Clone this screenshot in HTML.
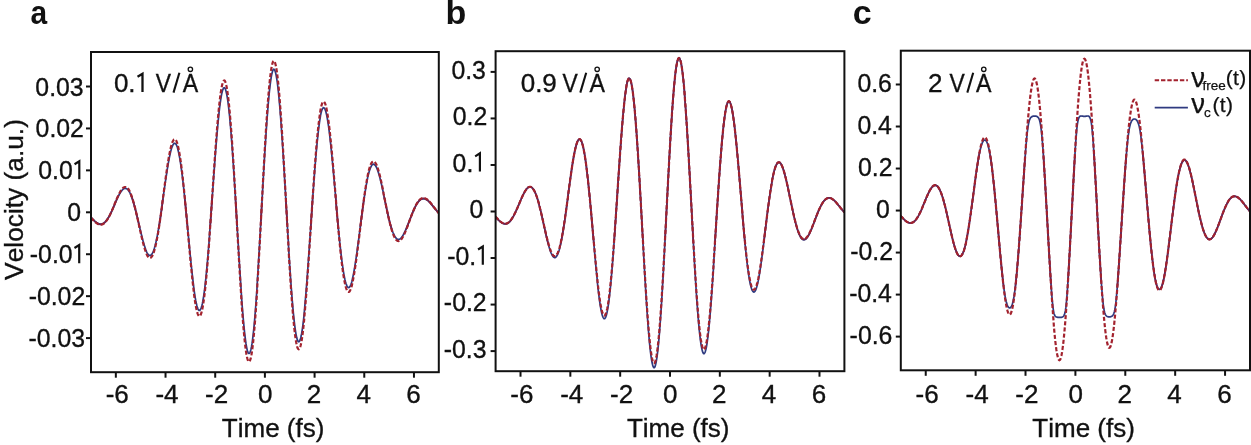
<!DOCTYPE html>
<html><head><meta charset="utf-8"><style>
html,body{margin:0;padding:0;background:#fff;}
body{width:1251px;height:445px;overflow:hidden;}
svg{display:block;will-change:transform;}
text{font-family:"Liberation Sans", sans-serif;fill:#111;font-kerning:none;}
.t{font-size:26px;stroke:#111;stroke-width:0.35px;}
.lg{font-size:21px;stroke:#111;stroke-width:0.25px;}
.L{font-weight:bold;font-size:34px;}
</style></head><body>
<svg width="1251" height="445" viewBox="0 0 1251 445">
<defs><filter id="soft" x="-5%" y="-5%" width="110%" height="110%"><feGaussianBlur stdDeviation="0.4"/></filter></defs>
<rect width="1251" height="445" fill="#fff"/>
<text transform="translate(30.6,24) scale(0.88,1)" class="L">a</text>
<text x="445.4" y="24" class="L">b</text>
<text x="852.7" y="24" class="L">c</text>
<text transform="translate(23.2,199.5) rotate(-90)" text-anchor="middle" class="t" style="font-size:26.3px">Velocity (a.u.)</text>
<clipPath id="clipa"><rect x="91.0" y="52.0" width="347.80" height="320.20"/></clipPath>
<g clip-path="url(#clipa)"><g filter="url(#soft)">
<path d="M91.0 217.3 L91.5 217.9 L92.0 218.4 L92.5 218.9 L93.0 219.4 L93.5 219.9 L94.0 220.4 L94.5 220.9 L95.0 221.3 L95.5 221.7 L96.0 222.1 L96.5 222.5 L97.0 222.8 L97.5 223.1 L98.0 223.4 L98.5 223.6 L98.9 223.8 L99.4 223.9 L99.9 224.0 L100.4 224.0 L100.9 224.0 L101.4 224.0 L101.9 223.9 L102.4 223.7 L102.9 223.5 L103.4 223.2 L103.9 222.9 L104.4 222.5 L104.9 222.1 L105.4 221.6 L105.9 221.0 L106.4 220.4 L106.9 219.8 L107.4 219.1 L107.9 218.3 L108.4 217.5 L108.9 216.7 L109.4 215.8 L109.9 214.8 L110.4 213.9 L110.9 212.9 L111.4 211.8 L111.9 210.8 L112.4 209.7 L112.9 208.6 L113.4 207.4 L113.9 206.3 L114.4 205.2 L114.8 204.0 L115.3 202.9 L115.8 201.7 L116.3 200.6 L116.8 199.5 L117.3 198.4 L117.8 197.4 L118.3 196.3 L118.8 195.4 L119.3 194.4 L119.8 193.5 L120.3 192.7 L120.8 191.9 L121.3 191.2 L121.8 190.6 L122.3 190.0 L122.8 189.5 L123.3 189.1 L123.8 188.8 L124.3 188.5 L124.8 188.4 L125.3 188.4 L125.8 188.4 L126.3 188.6 L126.8 188.8 L127.3 189.2 L127.8 189.7 L128.3 190.2 L128.8 190.9 L129.3 191.7 L129.8 192.6 L130.3 193.6 L130.7 194.7 L131.2 195.9 L131.7 197.2 L132.2 198.6 L132.7 200.1 L133.2 201.7 L133.7 203.3 L134.2 205.1 L134.7 206.9 L135.2 208.8 L135.7 210.7 L136.2 212.7 L136.7 214.7 L137.2 216.8 L137.7 218.9 L138.2 221.0 L138.7 223.2 L139.2 225.3 L139.7 227.5 L140.2 229.6 L140.7 231.7 L141.2 233.8 L141.7 235.8 L142.2 237.8 L142.7 239.7 L143.2 241.6 L143.7 243.3 L144.2 245.0 L144.7 246.6 L145.2 248.1 L145.7 249.5 L146.2 250.7 L146.6 251.8 L147.1 252.8 L147.6 253.7 L148.1 254.3 L148.6 254.9 L149.1 255.2 L149.6 255.4 L150.1 255.4 L150.6 255.3 L151.1 255.0 L151.6 254.4 L152.1 253.7 L152.6 252.9 L153.1 251.8 L153.6 250.5 L154.1 249.1 L154.6 247.5 L155.1 245.7 L155.6 243.7 L156.1 241.6 L156.6 239.3 L157.1 236.9 L157.6 234.3 L158.1 231.5 L158.6 228.7 L159.1 225.7 L159.6 222.6 L160.1 219.4 L160.6 216.1 L161.1 212.7 L161.6 209.3 L162.1 205.8 L162.5 202.2 L163.0 198.7 L163.5 195.1 L164.0 191.5 L164.5 188.0 L165.0 184.5 L165.5 181.0 L166.0 177.6 L166.5 174.3 L167.0 171.1 L167.5 167.9 L168.0 164.9 L168.5 162.1 L169.0 159.4 L169.5 156.9 L170.0 154.5 L170.5 152.3 L171.0 150.4 L171.5 148.6 L172.0 147.1 L172.5 145.9 L173.0 144.8 L173.5 144.1 L174.0 143.5 L174.5 143.3 L175.0 143.3 L175.5 143.7 L176.0 144.3 L176.5 145.1 L177.0 146.3 L177.5 147.7 L177.9 149.5 L178.4 151.5 L178.9 153.8 L179.4 156.3 L179.9 159.2 L180.4 162.2 L180.9 165.6 L181.4 169.1 L181.9 172.9 L182.4 176.9 L182.9 181.2 L183.4 185.6 L183.9 190.1 L184.4 194.9 L184.9 199.7 L185.4 204.7 L185.9 209.8 L186.4 215.0 L186.9 220.2 L187.4 225.5 L187.9 230.8 L188.4 236.1 L188.9 241.4 L189.4 246.6 L189.9 251.8 L190.4 256.8 L190.9 261.8 L191.4 266.6 L191.9 271.3 L192.4 275.8 L192.9 280.1 L193.4 284.2 L193.8 288.1 L194.3 291.7 L194.8 295.1 L195.3 298.1 L195.8 300.9 L196.3 303.3 L196.8 305.4 L197.3 307.1 L197.8 308.5 L198.3 309.6 L198.8 310.2 L199.3 310.5 L199.8 310.4 L200.3 309.8 L200.8 308.9 L201.3 307.6 L201.8 306.0 L202.3 303.9 L202.8 301.4 L203.3 298.5 L203.8 295.3 L204.3 291.7 L204.8 287.8 L205.3 283.5 L205.8 278.9 L206.3 273.9 L206.8 268.7 L207.3 263.2 L207.8 257.4 L208.3 251.4 L208.8 245.2 L209.3 238.8 L209.7 232.2 L210.2 225.5 L210.7 218.6 L211.2 211.7 L211.7 204.7 L212.2 197.7 L212.7 190.6 L213.2 183.6 L213.7 176.7 L214.2 169.8 L214.7 163.0 L215.2 156.3 L215.7 149.8 L216.2 143.5 L216.7 137.4 L217.2 131.6 L217.7 126.0 L218.2 120.8 L218.7 115.8 L219.2 111.2 L219.7 106.9 L220.2 103.1 L220.7 99.6 L221.2 96.5 L221.7 93.9 L222.2 91.7 L222.7 90.0 L223.2 88.8 L223.7 88.0 L224.2 87.7 L224.7 87.9 L225.2 88.6 L225.6 89.8 L226.1 91.5 L226.6 93.7 L227.1 96.3 L227.6 99.4 L228.1 103.0 L228.6 107.1 L229.1 111.5 L229.6 116.4 L230.1 121.8 L230.6 127.5 L231.1 133.5 L231.6 140.0 L232.1 146.7 L232.6 153.7 L233.1 161.0 L233.6 168.6 L234.1 176.3 L234.6 184.3 L235.1 192.4 L235.6 200.6 L236.1 208.9 L236.6 217.3 L237.1 225.7 L237.6 234.0 L238.1 242.4 L238.6 250.6 L239.1 258.7 L239.6 266.7 L240.1 274.5 L240.6 282.1 L241.1 289.5 L241.5 296.6 L242.0 303.4 L242.5 309.8 L243.0 315.9 L243.5 321.6 L244.0 326.9 L244.5 331.8 L245.0 336.2 L245.5 340.2 L246.0 343.7 L246.5 346.6 L247.0 349.1 L247.5 351.0 L248.0 352.4 L248.5 353.2 L249.0 353.5 L249.5 353.3 L250.0 352.4 L250.5 351.1 L251.0 349.2 L251.5 346.7 L252.0 343.7 L252.5 340.2 L253.0 336.2 L253.5 331.7 L254.0 326.8 L254.5 321.3 L255.0 315.5 L255.5 309.2 L256.0 302.5 L256.5 295.5 L257.0 288.1 L257.4 280.4 L257.9 272.5 L258.4 264.3 L258.9 255.9 L259.4 247.3 L259.9 238.6 L260.4 229.8 L260.9 220.9 L261.4 211.9 L261.9 203.0 L262.4 194.0 L262.9 185.2 L263.4 176.4 L263.9 167.8 L264.4 159.4 L264.9 151.2 L265.4 143.2 L265.9 135.5 L266.4 128.1 L266.9 121.0 L267.4 114.3 L267.9 107.9 L268.4 102.0 L268.9 96.5 L269.4 91.5 L269.9 86.9 L270.4 82.8 L270.9 79.3 L271.4 76.2 L271.9 73.7 L272.4 71.8 L272.8 70.4 L273.3 69.5 L273.8 69.2 L274.3 69.5 L274.8 70.3 L275.3 71.7 L275.8 73.6 L276.3 76.0 L276.8 79.0 L277.3 82.5 L277.8 86.5 L278.3 90.9 L278.8 95.9 L279.3 101.2 L279.8 107.0 L280.3 113.2 L280.8 119.7 L281.3 126.6 L281.8 133.8 L282.3 141.3 L282.8 149.0 L283.3 157.0 L283.8 165.1 L284.3 173.4 L284.8 181.8 L285.3 190.3 L285.8 198.9 L286.3 207.5 L286.8 216.0 L287.3 224.5 L287.8 233.0 L288.3 241.3 L288.7 249.4 L289.2 257.4 L289.7 265.2 L290.2 272.7 L290.7 280.0 L291.2 287.0 L291.7 293.6 L292.2 299.9 L292.7 305.8 L293.2 311.3 L293.7 316.5 L294.2 321.1 L294.7 325.4 L295.2 329.1 L295.7 332.4 L296.2 335.3 L296.7 337.6 L297.2 339.4 L297.7 340.7 L298.2 341.5 L298.7 341.8 L299.2 341.6 L299.7 340.9 L300.2 339.7 L300.7 338.0 L301.2 335.8 L301.7 333.2 L302.2 330.1 L302.7 326.6 L303.2 322.7 L303.7 318.3 L304.2 313.6 L304.6 308.5 L305.1 303.1 L305.6 297.4 L306.1 291.3 L306.6 285.1 L307.1 278.5 L307.6 271.8 L308.1 264.9 L308.6 257.9 L309.1 250.7 L309.6 243.4 L310.1 236.1 L310.6 228.7 L311.1 221.4 L311.6 214.0 L312.1 206.7 L312.6 199.5 L313.1 192.5 L313.6 185.5 L314.1 178.7 L314.6 172.1 L315.1 165.8 L315.6 159.6 L316.1 153.8 L316.6 148.2 L317.1 142.9 L317.6 137.9 L318.1 133.3 L318.6 129.0 L319.1 125.1 L319.6 121.5 L320.1 118.4 L320.5 115.6 L321.0 113.3 L321.5 111.3 L322.0 109.8 L322.5 108.7 L323.0 108.0 L323.5 107.7 L324.0 107.8 L324.5 108.3 L325.0 109.2 L325.5 110.6 L326.0 112.3 L326.5 114.3 L327.0 116.7 L327.5 119.5 L328.0 122.6 L328.5 126.0 L329.0 129.7 L329.5 133.7 L330.0 138.0 L330.5 142.4 L331.0 147.1 L331.5 152.0 L332.0 157.1 L332.5 162.3 L333.0 167.7 L333.5 173.2 L334.0 178.7 L334.5 184.3 L335.0 190.0 L335.5 195.6 L336.0 201.3 L336.4 206.9 L336.9 212.5 L337.4 218.0 L337.9 223.4 L338.4 228.7 L338.9 233.8 L339.4 238.8 L339.9 243.7 L340.4 248.3 L340.9 252.8 L341.4 257.0 L341.9 261.0 L342.4 264.7 L342.9 268.2 L343.4 271.4 L343.9 274.4 L344.4 277.0 L344.9 279.4 L345.4 281.5 L345.9 283.2 L346.4 284.7 L346.9 285.9 L347.4 286.7 L347.9 287.3 L348.4 287.6 L348.9 287.5 L349.4 287.2 L349.9 286.6 L350.4 285.7 L350.9 284.5 L351.4 283.1 L351.9 281.4 L352.3 279.4 L352.8 277.3 L353.3 274.9 L353.8 272.3 L354.3 269.5 L354.8 266.6 L355.3 263.5 L355.8 260.2 L356.3 256.8 L356.8 253.3 L357.3 249.6 L357.8 245.9 L358.3 242.2 L358.8 238.3 L359.3 234.5 L359.8 230.6 L360.3 226.7 L360.8 222.8 L361.3 219.0 L361.8 215.2 L362.3 211.4 L362.8 207.7 L363.3 204.1 L363.8 200.6 L364.3 197.2 L364.8 193.9 L365.3 190.8 L365.8 187.8 L366.3 184.9 L366.8 182.3 L367.3 179.7 L367.7 177.4 L368.2 175.2 L368.7 173.2 L369.2 171.4 L369.7 169.9 L370.2 168.5 L370.7 167.3 L371.2 166.3 L371.7 165.4 L372.2 164.8 L372.7 164.4 L373.2 164.2 L373.7 164.2 L374.2 164.4 L374.7 164.8 L375.2 165.3 L375.7 166.0 L376.2 166.9 L376.7 167.9 L377.2 169.1 L377.7 170.5 L378.2 171.9 L378.7 173.5 L379.2 175.3 L379.7 177.1 L380.2 179.0 L380.7 181.0 L381.2 183.1 L381.7 185.3 L382.2 187.5 L382.7 189.8 L383.2 192.1 L383.6 194.5 L384.1 196.9 L384.6 199.2 L385.1 201.6 L385.6 204.0 L386.1 206.3 L386.6 208.6 L387.1 210.9 L387.6 213.2 L388.1 215.3 L388.6 217.5 L389.1 219.5 L389.6 221.5 L390.1 223.4 L390.6 225.2 L391.1 226.9 L391.6 228.5 L392.1 230.0 L392.6 231.5 L393.1 232.8 L393.6 233.9 L394.1 235.0 L394.6 236.0 L395.1 236.8 L395.6 237.5 L396.1 238.2 L396.6 238.7 L397.1 239.0 L397.6 239.3 L398.1 239.4 L398.6 239.5 L399.1 239.4 L399.5 239.2 L400.0 238.9 L400.5 238.6 L401.0 238.1 L401.5 237.5 L402.0 236.9 L402.5 236.1 L403.0 235.3 L403.5 234.5 L404.0 233.5 L404.5 232.5 L405.0 231.5 L405.5 230.4 L406.0 229.2 L406.5 228.0 L407.0 226.8 L407.5 225.6 L408.0 224.3 L408.5 223.0 L409.0 221.7 L409.5 220.4 L410.0 219.1 L410.5 217.9 L411.0 216.6 L411.5 215.4 L412.0 214.1 L412.5 212.9 L413.0 211.7 L413.5 210.6 L414.0 209.5 L414.5 208.5 L415.0 207.4 L415.4 206.5 L415.9 205.6 L416.4 204.7 L416.9 203.9 L417.4 203.1 L417.9 202.4 L418.4 201.8 L418.9 201.2 L419.4 200.7 L419.9 200.3 L420.4 199.9 L420.9 199.5 L421.4 199.3 L421.9 199.1 L422.4 198.9 L422.9 198.8 L423.4 198.8 L423.9 198.8 L424.4 198.9 L424.9 199.0 L425.4 199.2 L425.9 199.4 L426.4 199.7 L426.9 200.0 L427.4 200.3 L427.9 200.7 L428.4 201.1 L428.9 201.6 L429.4 202.1 L429.9 202.6 L430.4 203.1 L430.9 203.7 L431.3 204.3 L431.8 204.8 L432.3 205.4 L432.8 206.0 L433.3 206.7 L433.8 207.3 L434.3 207.9 L434.8 208.5 L435.3 209.1 L435.8 209.7 L436.3 210.3 L436.8 210.9 L437.3 211.5 L437.8 212.0 L438.3 212.6 L438.8 213.1" fill="none" stroke="#2f3a80" stroke-width="1.7" stroke-linejoin="round"/>
<path d="M91.0 217.5 L91.5 218.0 L92.0 218.6 L92.5 219.1 L93.0 219.7 L93.5 220.2 L94.0 220.7 L94.5 221.1 L95.0 221.6 L95.5 222.0 L96.0 222.4 L96.5 222.8 L97.0 223.1 L97.5 223.4 L98.0 223.7 L98.5 223.9 L98.9 224.1 L99.4 224.2 L99.9 224.3 L100.4 224.4 L100.9 224.4 L101.4 224.3 L101.9 224.2 L102.4 224.0 L102.9 223.8 L103.4 223.5 L103.9 223.2 L104.4 222.8 L104.9 222.3 L105.4 221.8 L105.9 221.3 L106.4 220.7 L106.9 220.0 L107.4 219.3 L107.9 218.5 L108.4 217.7 L108.9 216.8 L109.4 215.9 L109.9 214.9 L110.4 213.9 L110.9 212.9 L111.4 211.8 L111.9 210.7 L112.4 209.6 L112.9 208.5 L113.4 207.3 L113.9 206.1 L114.4 205.0 L114.8 203.8 L115.3 202.6 L115.8 201.4 L116.3 200.3 L116.8 199.1 L117.3 198.0 L117.8 196.9 L118.3 195.9 L118.8 194.9 M131.2 195.4 L131.7 196.8 L132.2 198.2 L132.7 199.8 L133.2 201.4 L133.7 203.1 L134.2 204.9 L134.7 206.7 L135.2 208.7 L135.7 210.7 L136.2 212.7 L136.7 214.8 L137.2 216.9 L137.7 219.1 L138.2 221.3 L138.7 223.5 L139.2 225.7 L139.7 227.9 M158.6 229.1 L159.1 226.1 L159.6 222.9 L160.1 219.6 L160.6 216.2 L161.1 212.7 L161.6 209.2 L162.1 205.6 L162.5 201.9 L163.0 198.3 M184.9 199.4 L185.4 204.5 L185.9 209.7 L186.4 215.0 L186.9 220.4 L187.4 225.9 M210.2 225.9 L210.7 218.8 L211.2 211.7 L211.7 204.5 L212.2 197.3 M235.6 200.3 L236.1 208.8 L236.6 217.4 L237.1 226.0 M260.9 221.1 L261.4 211.9 L261.9 202.7 M285.8 198.5 L286.3 207.3 L286.8 216.1 L287.3 224.9 M310.6 229.2 L311.1 221.6 L311.6 214.1 L312.1 206.6 L312.6 199.2 M335.5 195.1 L336.0 201.0 L336.4 206.8 L336.9 212.5 L337.4 218.2 L337.9 223.7 L338.4 229.2 M360.3 227.1 L360.8 223.1 L361.3 219.2 L361.8 215.2 L362.3 211.4 L362.8 207.6 L363.3 203.9 L363.8 200.3 L364.3 196.8 M384.1 196.4 L384.6 198.9 L385.1 201.3 L385.6 203.7 L386.1 206.2 L386.6 208.5 L387.1 210.9 L387.6 213.2 L388.1 215.4 L388.6 217.6 L389.1 219.7 L389.6 221.8 L390.1 223.7 L390.6 225.6 L391.1 227.3 L391.6 229.0 M406.0 229.7 L406.5 228.5 L407.0 227.2 L407.5 225.9 L408.0 224.6 L408.5 223.3 L409.0 222.0 L409.5 220.7 L410.0 219.3 L410.5 218.0 L411.0 216.7 L411.5 215.4 L412.0 214.2 L412.5 212.9 L413.0 211.7 L413.5 210.6 L414.0 209.4 L414.5 208.3 L415.0 207.3 L415.4 206.3 L415.9 205.4 L416.4 204.5 L416.9 203.6 L417.4 202.9 L417.9 202.2 L418.4 201.5 L418.9 200.9 L419.4 200.4 L419.9 199.9 L420.4 199.5 L420.9 199.2 L421.4 198.9 L421.9 198.7 L422.4 198.5 L422.9 198.4 L423.4 198.4 L423.9 198.4 L424.4 198.5 L424.9 198.6 L425.4 198.8 L425.9 199.0 L426.4 199.3 L426.9 199.6 L427.4 200.0 L427.9 200.4 L428.4 200.8 L428.9 201.3 L429.4 201.8 L429.9 202.3 L430.4 202.9 L430.9 203.4 L431.3 204.0 L431.8 204.6 L432.3 205.2 L432.8 205.9 L433.3 206.5 L433.8 207.1 L434.3 207.8 L434.8 208.4 L435.3 209.0 L435.8 209.6 L436.3 210.3 L436.8 210.9 L437.3 211.4 L437.8 212.0 L438.3 212.6 L438.8 213.1" fill="none" stroke="#6e2550" stroke-width="1.7" stroke-linejoin="round"/>
<path d="M91.0 217.6 L91.5 218.2 L92.0 218.8 L92.5 219.3 L93.0 219.9 L93.5 220.4 L94.0 220.9 L94.5 221.4 L95.0 221.9 L95.5 222.3 L96.0 222.7 L96.5 223.1 L97.0 223.4 L97.5 223.8 L98.0 224.0 L98.5 224.3 L98.9 224.4 L99.4 224.6 L99.9 224.7 L100.4 224.7 L100.9 224.7 L101.4 224.6 L101.9 224.5 L102.4 224.4 L102.9 224.1 L103.4 223.8 L103.9 223.5 L104.4 223.1 L104.9 222.6 L105.4 222.1 L105.9 221.5 L106.4 220.9 L106.9 220.2 L107.4 219.5 L107.9 218.7 L108.4 217.8 L108.9 216.9 L109.4 216.0 L109.9 215.0 L110.4 214.0 L110.9 212.9 L111.4 211.8 L111.9 210.7 L112.4 209.5 L112.9 208.4 L113.4 207.2 L113.9 206.0 L114.4 204.7 L114.8 203.5 L115.3 202.3 L115.8 201.1 L116.3 199.9 L116.8 198.8 L117.3 197.6 L117.8 196.5 L118.3 195.4 L118.8 194.4 L119.3 193.4 L119.8 192.4 L120.3 191.5 L120.8 190.7 L121.3 190.0 L121.8 189.3 L122.3 188.7 L122.8 188.2 L123.3 187.7 L123.8 187.4 L124.3 187.2 L124.8 187.0 L125.3 187.0 L125.8 187.0 L126.3 187.2 L126.8 187.5 L127.3 187.9 L127.8 188.3 L128.3 189.0 L128.8 189.7 L129.3 190.5 L129.8 191.5 L130.3 192.5 L130.7 193.7 L131.2 195.0 L131.7 196.3 L132.2 197.8 L132.7 199.4 L133.2 201.1 L133.7 202.8 L134.2 204.7 L134.7 206.6 L135.2 208.6 L135.7 210.6 L136.2 212.7 L136.7 214.9 L137.2 217.1 L137.7 219.3 L138.2 221.5 L138.7 223.8 L139.2 226.1 L139.7 228.3 L140.2 230.6 L140.7 232.8 L141.2 235.0 L141.7 237.2 L142.2 239.3 L142.7 241.3 L143.2 243.3 L143.7 245.2 L144.2 246.9 L144.7 248.6 L145.2 250.2 L145.7 251.6 L146.2 253.0 L146.6 254.2 L147.1 255.2 L147.6 256.1 L148.1 256.8 L148.6 257.4 L149.1 257.7 L149.6 257.9 L150.1 258.0 L150.6 257.8 L151.1 257.4 L151.6 256.9 L152.1 256.2 L152.6 255.2 L153.1 254.1 L153.6 252.8 L154.1 251.2 L154.6 249.5 L155.1 247.6 L155.6 245.6 L156.1 243.3 L156.6 240.9 L157.1 238.3 L157.6 235.6 L158.1 232.7 L158.6 229.6 L159.1 226.5 L159.6 223.2 L160.1 219.8 L160.6 216.3 L161.1 212.7 L161.6 209.1 L162.1 205.4 L162.5 201.6 L163.0 197.9 L163.5 194.1 L164.0 190.3 L164.5 186.6 L165.0 182.9 L165.5 179.2 L166.0 175.6 L166.5 172.1 L167.0 168.7 L167.5 165.4 L168.0 162.2 L168.5 159.2 L169.0 156.3 L169.5 153.6 L170.0 151.1 L170.5 148.8 L171.0 146.8 L171.5 144.9 L172.0 143.3 L172.5 142.0 L173.0 140.9 L173.5 140.1 L174.0 139.5 L174.5 139.3 L175.0 139.3 L175.5 139.7 L176.0 140.3 L176.5 141.2 L177.0 142.5 L177.5 144.0 L177.9 145.8 L178.4 147.9 L178.9 150.4 L179.4 153.1 L179.9 156.1 L180.4 159.3 L180.9 162.8 L181.4 166.6 L181.9 170.6 L182.4 174.9 L182.9 179.3 L183.4 184.0 L183.9 188.8 L184.4 193.8 L184.9 199.0 L185.4 204.3 L185.9 209.6 L186.4 215.1 L186.9 220.7 L187.4 226.2 L187.9 231.9 L188.4 237.5 L188.9 243.0 L189.4 248.6 L189.9 254.0 L190.4 259.4 L190.9 264.7 L191.4 269.8 L191.9 274.8 L192.4 279.5 L192.9 284.1 L193.4 288.4 L193.8 292.5 L194.3 296.3 L194.8 299.9 L195.3 303.1 L195.8 306.0 L196.3 308.6 L196.8 310.8 L197.3 312.7 L197.8 314.1 L198.3 315.2 L198.8 315.9 L199.3 316.2 L199.8 316.1 L200.3 315.5 L200.8 314.6 L201.3 313.2 L201.8 311.4 L202.3 309.2 L202.8 306.6 L203.3 303.6 L203.8 300.1 L204.3 296.3 L204.8 292.2 L205.3 287.6 L205.8 282.7 L206.3 277.5 L206.8 272.0 L207.3 266.2 L207.8 260.1 L208.3 253.7 L208.8 247.1 L209.3 240.3 L209.7 233.4 L210.2 226.3 L210.7 219.0 L211.2 211.7 L211.7 204.3 L212.2 196.8 L212.7 189.4 L213.2 182.0 L213.7 174.6 L214.2 167.3 L214.7 160.1 L215.2 153.1 L215.7 146.2 L216.2 139.5 L216.7 133.1 L217.2 126.9 L217.7 121.0 L218.2 115.4 L218.7 110.2 L219.2 105.3 L219.7 100.8 L220.2 96.7 L220.7 93.0 L221.2 89.8 L221.7 87.0 L222.2 84.7 L222.7 82.9 L223.2 81.6 L223.7 80.8 L224.2 80.5 L224.7 80.7 L225.2 81.4 L225.6 82.7 L226.1 84.5 L226.6 86.7 L227.1 89.5 L227.6 92.9 L228.1 96.7 L228.6 100.9 L229.1 105.7 L229.6 110.9 L230.1 116.5 L230.6 122.5 L231.1 129.0 L231.6 135.7 L232.1 142.9 L232.6 150.3 L233.1 158.0 L233.6 166.0 L234.1 174.3 L234.6 182.7 L235.1 191.2 L235.6 199.9 L236.1 208.7 L236.6 217.6 L237.1 226.4 L237.6 235.3 L238.1 244.1 L238.6 252.8 L239.1 261.4 L239.6 269.9 L240.1 278.2 L240.6 286.2 L241.1 294.0 L241.5 301.5 L242.0 308.7 L242.5 315.5 L243.0 321.9 L243.5 328.0 L244.0 333.6 L244.5 338.8 L245.0 343.5 L245.5 347.6 L246.0 351.3 L246.5 354.5 L247.0 357.0 L247.5 359.1 L248.0 360.5 L248.5 361.4 L249.0 361.7 L249.5 361.5 L250.0 360.6 L250.5 359.2 L251.0 357.1 L251.5 354.5 L252.0 351.4 L252.5 347.7 L253.0 343.4 L253.5 338.7 L254.0 333.4 L254.5 327.7 L255.0 321.5 L255.5 314.8 L256.0 307.8 L256.5 300.3 L257.0 292.5 L257.4 284.4 L257.9 276.0 L258.4 267.3 L258.9 258.4 L259.4 249.4 L259.9 240.1 L260.4 230.8 L260.9 221.3 L261.4 211.9 L261.9 202.4 L262.4 193.0 L262.9 183.6 L263.4 174.4 L263.9 165.3 L264.4 156.3 L264.9 147.6 L265.4 139.2 L265.9 131.0 L266.4 123.2 L266.9 115.7 L267.4 108.6 L267.9 101.9 L268.4 95.6 L268.9 89.8 L269.4 84.4 L269.9 79.6 L270.4 75.3 L270.9 71.5 L271.4 68.3 L271.9 65.7 L272.4 63.6 L272.8 62.1 L273.3 61.2 L273.8 60.9 L274.3 61.2 L274.8 62.0 L275.3 63.5 L275.8 65.5 L276.3 68.1 L276.8 71.2 L277.3 74.9 L277.8 79.2 L278.3 83.9 L278.8 89.1 L279.3 94.8 L279.8 100.9 L280.3 107.4 L280.8 114.3 L281.3 121.6 L281.8 129.2 L282.3 137.2 L282.8 145.3 L283.3 153.7 L283.8 162.4 L284.3 171.1 L284.8 180.0 L285.3 189.0 L285.8 198.1 L286.3 207.2 L286.8 216.2 L287.3 225.2 L287.8 234.2 L288.3 243.0 L288.7 251.6 L289.2 260.0 L289.7 268.3 L290.2 276.2 L290.7 283.9 L291.2 291.3 L291.7 298.3 L292.2 305.0 L292.7 311.3 L293.2 317.1 L293.7 322.5 L294.2 327.5 L294.7 332.0 L295.2 335.9 L295.7 339.4 L296.2 342.4 L296.7 344.9 L297.2 346.8 L297.7 348.2 L298.2 349.0 L298.7 349.3 L299.2 349.1 L299.7 348.4 L300.2 347.1 L300.7 345.3 L301.2 343.0 L301.7 340.2 L302.2 337.0 L302.7 333.3 L303.2 329.1 L303.7 324.5 L304.2 319.5 L304.6 314.1 L305.1 308.4 L305.6 302.3 L306.1 295.9 L306.6 289.3 L307.1 282.4 L307.6 275.3 L308.1 268.0 L308.6 260.5 L309.1 252.9 L309.6 245.2 L310.1 237.5 L310.6 229.7 L311.1 221.9 L311.6 214.1 L312.1 206.4 L312.6 198.8 L313.1 191.3 L313.6 184.0 L314.1 176.8 L314.6 169.8 L315.1 163.1 L315.6 156.6 L316.1 150.3 L316.6 144.4 L317.1 138.8 L317.6 133.6 L318.1 128.7 L318.6 124.1 L319.1 120.0 L319.6 116.2 L320.1 112.9 L320.5 110.0 L321.0 107.5 L321.5 105.4 L322.0 103.8 L322.5 102.6 L323.0 101.9 L323.5 101.6 L324.0 101.7 L324.5 102.3 L325.0 103.2 L325.5 104.6 L326.0 106.4 L326.5 108.6 L327.0 111.2 L327.5 114.1 L328.0 117.4 L328.5 121.0 L329.0 124.9 L329.5 129.1 L330.0 133.6 L330.5 138.4 L331.0 143.3 L331.5 148.5 L332.0 153.9 L332.5 159.4 L333.0 165.1 L333.5 170.9 L334.0 176.8 L334.5 182.7 L335.0 188.7 L335.5 194.7 L336.0 200.6 L336.4 206.6 L336.9 212.5 L337.4 218.3 L337.9 224.0 L338.4 229.6 L338.9 235.1 L339.4 240.4 L339.9 245.5 L340.4 250.4 L340.9 255.1 L341.4 259.6 L341.9 263.8 L342.4 267.8 L342.9 271.5 L343.4 274.9 L343.9 278.0 L344.4 280.8 L344.9 283.3 L345.4 285.5 L345.9 287.4 L346.4 288.9 L346.9 290.2 L347.4 291.1 L347.9 291.7 L348.4 291.9 L348.9 291.9 L349.4 291.6 L349.9 290.9 L350.4 289.9 L350.9 288.7 L351.4 287.2 L351.9 285.4 L352.3 283.4 L352.8 281.1 L353.3 278.5 L353.8 275.8 L354.3 272.9 L354.8 269.7 L355.3 266.4 L355.8 263.0 L356.3 259.4 L356.8 255.6 L357.3 251.8 L357.8 247.9 L358.3 243.9 L358.8 239.8 L359.3 235.8 L359.8 231.6 L360.3 227.5 L360.8 223.4 L361.3 219.3 L361.8 215.3 L362.3 211.3 L362.8 207.4 L363.3 203.6 L363.8 199.9 L364.3 196.3 L364.8 192.9 L365.3 189.5 L365.8 186.4 L366.3 183.4 L366.8 180.5 L367.3 177.8 L367.7 175.4 L368.2 173.1 L368.7 171.0 L369.2 169.1 L369.7 167.4 L370.2 165.9 L370.7 164.6 L371.2 163.6 L371.7 162.7 L372.2 162.1 L372.7 161.7 L373.2 161.4 L373.7 161.4 L374.2 161.6 L374.7 162.0 L375.2 162.6 L375.7 163.3 L376.2 164.2 L376.7 165.3 L377.2 166.6 L377.7 168.0 L378.2 169.6 L378.7 171.3 L379.2 173.1 L379.7 175.0 L380.2 177.1 L380.7 179.2 L381.2 181.4 L381.7 183.7 L382.2 186.1 L382.7 188.5 L383.2 191.0 L383.6 193.5 L384.1 196.0 L384.6 198.5 L385.1 201.0 L385.6 203.5 L386.1 206.0 L386.6 208.4 L387.1 210.8 L387.6 213.2 L388.1 215.5 L388.6 217.8 L389.1 219.9 L389.6 222.0 L390.1 224.0 L390.6 225.9 L391.1 227.8 L391.6 229.5 L392.1 231.1 L392.6 232.6 L393.1 233.9 L393.6 235.2 L394.1 236.3 L394.6 237.4 L395.1 238.3 L395.6 239.0 L396.1 239.7 L396.6 240.2 L397.1 240.6 L397.6 240.9 L398.1 241.0 L398.6 241.1 L399.1 241.0 L399.5 240.8 L400.0 240.5 L400.5 240.1 L401.0 239.6 L401.5 239.0 L402.0 238.3 L402.5 237.5 L403.0 236.7 L403.5 235.8 L404.0 234.8 L404.5 233.7 L405.0 232.6 L405.5 231.4 L406.0 230.2 L406.5 228.9 L407.0 227.6 L407.5 226.3 L408.0 225.0 L408.5 223.6 L409.0 222.3 L409.5 220.9 L410.0 219.5 L410.5 218.2 L411.0 216.9 L411.5 215.5 L412.0 214.2 L412.5 213.0 L413.0 211.7 L413.5 210.5 L414.0 209.3 L414.5 208.2 L415.0 207.2 L415.4 206.1 L415.9 205.2 L416.4 204.3 L416.9 203.4 L417.4 202.6 L417.9 201.9 L418.4 201.2 L418.9 200.6 L419.4 200.0 L419.9 199.6 L420.4 199.2 L420.9 198.8 L421.4 198.5 L421.9 198.3 L422.4 198.1 L422.9 198.0 L423.4 198.0 L423.9 198.0 L424.4 198.1 L424.9 198.2 L425.4 198.4 L425.9 198.7 L426.4 198.9 L426.9 199.3 L427.4 199.6 L427.9 200.0 L428.4 200.5 L428.9 201.0 L429.4 201.5 L429.9 202.0 L430.4 202.6 L430.9 203.2 L431.3 203.8 L431.8 204.4 L432.3 205.0 L432.8 205.7 L433.3 206.3 L433.8 207.0 L434.3 207.6 L434.8 208.3 L435.3 208.9 L435.8 209.6 L436.3 210.2 L436.8 210.8 L437.3 211.4 L437.8 212.0 L438.3 212.6 L438.8 213.1" fill="none" stroke="#a3222e" stroke-width="2.2" stroke-dasharray="4.1 2.1"/>
</g></g>
<rect x="91.0" y="52.0" width="347.80" height="320.20" fill="none" stroke="#111" stroke-width="2"/>
<line x1="86.00" y1="86.51" x2="91.00" y2="86.51" stroke="#111" stroke-width="2"/>
<g transform="translate(83.69,95.51) scale(0.955,1)"><text x="-50.60" y="0" class="t">0.03</text></g>
<line x1="86.00" y1="128.44" x2="91.00" y2="128.44" stroke="#111" stroke-width="2"/>
<g transform="translate(83.94,137.44) scale(0.955,1)"><text x="-50.60" y="0" class="t">0.02</text></g>
<line x1="86.00" y1="170.37" x2="91.00" y2="170.37" stroke="#111" stroke-width="2"/>
<g transform="translate(86.51,179.37) scale(0.955,1)"><text x="-50.60" y="0" class="t">0.0 </text><path d="M-12.51 -15.21 L-7.54 -18.20 L-7.54 0.00" fill="none" stroke="#111" stroke-width="2.29" stroke-linejoin="miter"/></g>
<line x1="86.00" y1="212.30" x2="91.00" y2="212.30" stroke="#111" stroke-width="2"/>
<g transform="translate(80.97,221.30) scale(0.955,1)"><text x="-14.46" y="0" class="t">0</text></g>
<line x1="86.00" y1="254.23" x2="91.00" y2="254.23" stroke="#111" stroke-width="2"/>
<g transform="translate(86.41,263.23) scale(0.955,1)"><text x="-59.26" y="0" class="t">-0.0 </text><path d="M-12.51 -15.21 L-7.54 -18.20 L-7.54 0.00" fill="none" stroke="#111" stroke-width="2.29" stroke-linejoin="miter"/></g>
<line x1="86.00" y1="296.16" x2="91.00" y2="296.16" stroke="#111" stroke-width="2"/>
<g transform="translate(85.24,305.16) scale(0.955,1)"><text x="-59.26" y="0" class="t">-0.02</text></g>
<line x1="86.00" y1="338.09" x2="91.00" y2="338.09" stroke="#111" stroke-width="2"/>
<g transform="translate(85.09,347.09) scale(0.955,1)"><text x="-59.26" y="0" class="t">-0.03</text></g>
<line x1="115.84" y1="372.20" x2="115.84" y2="377.70" stroke="#111" stroke-width="2"/>
<g transform="translate(117.24,403.20) scale(1.0,1)"><text x="-11.56" y="0" class="t">-6</text></g>
<line x1="165.53" y1="372.20" x2="165.53" y2="377.70" stroke="#111" stroke-width="2"/>
<g transform="translate(166.93,403.20) scale(1.0,1)"><text x="-11.56" y="0" class="t">-4</text></g>
<line x1="215.21" y1="372.20" x2="215.21" y2="377.70" stroke="#111" stroke-width="2"/>
<g transform="translate(216.61,403.20) scale(1.0,1)"><text x="-11.56" y="0" class="t">-2</text></g>
<line x1="264.90" y1="372.20" x2="264.90" y2="377.70" stroke="#111" stroke-width="2"/>
<g transform="translate(265.20,403.20) scale(1.0,1)"><text x="-7.23" y="0" class="t">0</text></g>
<line x1="314.59" y1="372.20" x2="314.59" y2="377.70" stroke="#111" stroke-width="2"/>
<g transform="translate(313.99,403.20) scale(1.0,1)"><text x="-7.23" y="0" class="t">2</text></g>
<line x1="364.27" y1="372.20" x2="364.27" y2="377.70" stroke="#111" stroke-width="2"/>
<g transform="translate(363.67,403.20) scale(1.0,1)"><text x="-7.23" y="0" class="t">4</text></g>
<line x1="413.96" y1="372.20" x2="413.96" y2="377.70" stroke="#111" stroke-width="2"/>
<g transform="translate(413.36,403.20) scale(1.0,1)"><text x="-7.23" y="0" class="t">6</text></g>
<g transform="translate(273.10,437.20) scale(1.0,1)"><text x="-51.27" y="0" class="t">Time (fs)</text></g>
<g transform="translate(113.89,91.90) scale(1.0,1)"><text x="0.00" y="0" class="t">0. </text><path d="M23.63 -15.21 L28.60 -18.20 L28.60 0.00" fill="none" stroke="#111" stroke-width="2.29" stroke-linejoin="miter"/></g>
<g transform="translate(155.71,91.9) scale(0.88,1)"><text x="0" y="0" class="t">V</text></g>
<path d="M173.50 92.6 L179.40 72.7" stroke="#111" stroke-width="2.1" fill="none"/>
<g transform="translate(182.65,91.9) scale(0.89,1)"><text x="0" y="0" class="t">A</text></g>
<circle cx="190.37" cy="69.3" r="2.2" fill="none" stroke="#111" stroke-width="1.3"/>
<clipPath id="clipb"><rect x="495.6" y="51.2" width="348.80" height="320.00"/></clipPath>
<g clip-path="url(#clipb)"><g filter="url(#soft)">
<path d="M495.6 216.9 L496.1 217.4 L496.6 218.0 L497.1 218.6 L497.6 219.1 L498.1 219.6 L498.6 220.2 L499.1 220.6 L499.6 221.1 L500.1 221.6 L500.6 222.0 L501.1 222.3 L501.6 222.7 L502.1 223.0 L502.6 223.3 L503.1 223.5 L503.6 223.7 L504.1 223.8 L504.6 223.9 L505.1 224.0 L505.6 223.9 L506.1 223.9 L506.6 223.8 L507.1 223.6 L507.6 223.4 L508.1 223.1 L508.6 222.7 L509.1 222.3 L509.6 221.8 L510.1 221.3 L510.5 220.7 L511.0 220.1 L511.5 219.4 L512.0 218.7 L512.5 217.9 L513.0 217.0 L513.5 216.1 L514.0 215.2 L514.5 214.2 L515.0 213.2 L515.5 212.1 L516.0 211.0 L516.5 209.9 L517.0 208.8 L517.5 207.7 L518.0 206.5 L518.5 205.3 L519.0 204.2 L519.5 203.0 L520.0 201.8 L520.5 200.6 L521.0 199.5 L521.5 198.3 L522.0 197.2 L522.5 196.1 L523.0 195.1 L523.5 194.1 L524.0 193.1 L524.5 192.2 L525.0 191.3 L525.5 190.5 L526.0 189.8 L526.5 189.1 L527.0 188.5 L527.5 188.0 L528.0 187.6 L528.5 187.3 L529.0 187.0 L529.5 186.9 L530.0 186.8 L530.5 186.9 L531.0 187.1 L531.5 187.3 L532.0 187.7 L532.5 188.2 L533.0 188.8 L533.5 189.5 L534.0 190.3 L534.5 191.2 L535.0 192.2 L535.5 193.4 L536.0 194.6 L536.5 196.0 L537.0 197.4 L537.5 198.9 L538.0 200.6 L538.5 202.3 L539.0 204.1 L539.4 205.9 L539.9 207.9 L540.4 209.9 L540.9 211.9 L541.4 214.1 L541.9 216.3 L542.4 218.5 L542.9 220.8 L543.4 223.1 L543.9 225.3 L544.4 227.6 L544.9 229.9 L545.4 232.1 L545.9 234.4 L546.4 236.5 L546.9 238.6 L547.4 240.7 L547.9 242.7 L548.4 244.6 L548.9 246.4 L549.4 248.1 L549.9 249.7 L550.4 251.1 L550.9 252.5 L551.4 253.7 L551.9 254.7 L552.4 255.6 L552.9 256.4 L553.4 256.9 L553.9 257.3 L554.4 257.6 L554.9 257.6 L555.4 257.4 L555.9 257.1 L556.4 256.5 L556.9 255.8 L557.4 254.9 L557.9 253.7 L558.4 252.4 L558.9 250.9 L559.4 249.2 L559.9 247.3 L560.4 245.2 L560.9 242.9 L561.4 240.4 L561.9 237.8 L562.4 235.0 L562.9 232.1 L563.4 229.0 L563.9 225.8 L564.4 222.5 L564.9 219.1 L565.4 215.5 L565.9 211.9 L566.4 208.3 L566.9 204.7 L567.4 201.0 L567.9 197.3 L568.3 193.6 L568.8 189.8 L569.3 186.1 L569.8 182.5 L570.3 178.8 L570.8 175.3 L571.3 171.8 L571.8 168.4 L572.3 165.2 L572.8 162.0 L573.3 159.0 L573.8 156.2 L574.3 153.5 L574.8 151.0 L575.3 148.8 L575.8 146.7 L576.3 144.9 L576.8 143.3 L577.3 141.9 L577.8 140.8 L578.3 140.0 L578.8 139.5 L579.3 139.2 L579.8 139.2 L580.3 139.5 L580.8 140.1 L581.3 141.0 L581.8 142.2 L582.3 143.7 L582.8 145.5 L583.3 147.6 L583.8 150.0 L584.3 152.7 L584.8 155.7 L585.3 158.9 L585.8 162.4 L586.3 166.1 L586.8 170.1 L587.3 174.3 L587.8 178.7 L588.3 183.3 L588.8 188.2 L589.3 193.1 L589.8 198.2 L590.3 203.5 L590.8 208.9 L591.3 214.4 L591.8 220.1 L592.3 225.8 L592.8 231.6 L593.3 237.3 L593.8 243.1 L594.3 248.8 L594.8 254.4 L595.3 259.9 L595.8 265.3 L596.3 270.6 L596.8 275.7 L597.3 280.7 L597.7 285.4 L598.2 289.8 L598.7 294.1 L599.2 298.0 L599.7 301.7 L600.2 305.0 L600.7 308.0 L601.2 310.7 L601.7 313.0 L602.2 315.0 L602.7 316.5 L603.2 317.6 L603.7 318.4 L604.2 318.7 L604.7 318.6 L605.2 318.0 L605.7 317.1 L606.2 315.7 L606.7 313.9 L607.2 311.6 L607.7 308.9 L608.2 305.8 L608.7 302.3 L609.2 298.4 L609.7 294.1 L610.2 289.4 L610.7 284.4 L611.2 279.0 L611.7 273.3 L612.2 267.2 L612.7 260.9 L613.2 254.4 L613.7 247.6 L614.2 240.5 L614.7 233.3 L615.2 226.0 L615.7 218.5 L616.2 210.9 L616.7 203.4 L617.2 195.9 L617.7 188.4 L618.2 180.9 L618.7 173.5 L619.2 166.1 L619.7 158.9 L620.2 151.8 L620.7 144.9 L621.2 138.1 L621.7 131.6 L622.2 125.4 L622.7 119.4 L623.2 113.8 L623.7 108.5 L624.2 103.5 L624.7 99.0 L625.2 94.8 L625.7 91.1 L626.2 87.8 L626.6 85.0 L627.1 82.6 L627.6 80.8 L628.1 79.4 L628.6 78.6 L629.1 78.3 L629.6 78.5 L630.1 79.2 L630.6 80.5 L631.1 82.2 L631.6 84.5 L632.1 87.4 L632.6 90.7 L633.1 94.5 L633.6 98.8 L634.1 103.6 L634.6 108.9 L635.1 114.5 L635.6 120.6 L636.1 127.1 L636.6 134.0 L637.1 141.2 L637.6 148.7 L638.1 156.6 L638.6 164.6 L639.1 173.0 L639.6 181.5 L640.1 190.2 L640.6 199.0 L641.1 207.9 L641.6 217.0 L642.1 226.3 L642.6 235.5 L643.1 244.7 L643.6 253.8 L644.1 262.8 L644.6 271.6 L645.1 280.3 L645.6 288.7 L646.1 296.8 L646.6 304.7 L647.1 312.2 L647.6 319.3 L648.1 326.1 L648.6 332.4 L649.1 338.3 L649.6 343.7 L650.1 348.6 L650.6 352.9 L651.1 356.8 L651.6 360.1 L652.1 362.8 L652.6 364.9 L653.1 366.5 L653.6 367.4 L654.1 367.7 L654.6 367.4 L655.1 366.5 L655.5 365.0 L656.0 362.9 L656.5 360.2 L657.0 356.9 L657.5 353.1 L658.0 348.6 L658.5 343.7 L659.0 338.1 L659.5 332.1 L660.0 325.6 L660.5 318.7 L661.0 311.3 L661.5 303.5 L662.0 295.4 L662.5 286.9 L663.0 278.1 L663.5 269.0 L664.0 259.7 L664.5 250.2 L665.0 240.6 L665.5 230.8 L666.0 221.0 L666.5 211.1 L667.0 201.5 L667.5 191.9 L668.0 182.4 L668.5 173.0 L669.0 163.7 L669.5 154.7 L670.0 145.9 L670.5 137.3 L671.0 129.0 L671.5 121.0 L672.0 113.4 L672.5 106.2 L673.0 99.4 L673.5 93.1 L674.0 87.2 L674.5 81.8 L675.0 76.9 L675.5 72.5 L676.0 68.7 L676.5 65.5 L677.0 62.8 L677.5 60.7 L678.0 59.2 L678.5 58.3 L679.0 58.0 L679.5 58.3 L680.0 59.2 L680.5 60.7 L681.0 62.7 L681.5 65.4 L682.0 68.6 L682.5 72.3 L683.0 76.6 L683.5 81.4 L684.0 86.7 L684.5 92.4 L684.9 98.7 L685.4 105.3 L685.9 112.3 L686.4 119.7 L686.9 127.4 L687.4 135.4 L687.9 143.7 L688.4 152.2 L688.9 161.0 L689.4 169.9 L689.9 178.9 L690.4 188.0 L690.9 197.1 L691.4 206.3 L691.9 215.6 L692.4 225.0 L692.9 234.3 L693.4 243.4 L693.9 252.4 L694.4 261.2 L694.9 269.7 L695.4 278.0 L695.9 286.0 L696.4 293.7 L696.9 301.0 L697.4 307.9 L697.9 314.4 L698.4 320.4 L698.9 326.1 L699.4 331.2 L699.9 335.8 L700.4 340.0 L700.9 343.6 L701.4 346.6 L701.9 349.1 L702.4 351.1 L702.9 352.5 L703.4 353.4 L703.9 353.7 L704.4 353.4 L704.9 352.6 L705.4 351.3 L705.9 349.4 L706.4 347.0 L706.9 344.1 L707.4 340.7 L707.9 336.8 L708.4 332.5 L708.9 327.7 L709.4 322.5 L709.9 316.9 L710.4 310.9 L710.9 304.6 L711.4 298.0 L711.9 291.1 L712.4 284.0 L712.9 276.6 L713.4 269.0 L713.8 261.3 L714.3 253.5 L714.8 245.5 L715.3 237.5 L715.8 229.4 L716.3 221.4 L716.8 213.4 L717.3 205.6 L717.8 198.0 L718.3 190.5 L718.8 183.1 L719.3 175.9 L719.8 169.0 L720.3 162.2 L720.8 155.8 L721.3 149.6 L721.8 143.6 L722.3 138.1 L722.8 132.8 L723.3 128.0 L723.8 123.4 L724.3 119.3 L724.8 115.6 L725.3 112.3 L725.8 109.4 L726.3 107.0 L726.8 104.9 L727.3 103.4 L727.8 102.2 L728.3 101.5 L728.8 101.2 L729.3 101.4 L729.8 101.9 L730.3 103.0 L730.8 104.4 L731.3 106.2 L731.8 108.4 L732.3 111.0 L732.8 113.9 L733.3 117.2 L733.8 120.8 L734.3 124.7 L734.8 128.9 L735.3 133.4 L735.8 138.1 L736.3 143.1 L736.8 148.2 L737.3 153.6 L737.8 159.1 L738.3 164.7 L738.8 170.5 L739.3 176.3 L739.8 182.2 L740.3 188.1 L740.8 194.0 L741.3 200.0 L741.8 205.9 L742.3 211.7 L742.7 217.6 L743.2 223.4 L743.7 229.1 L744.2 234.7 L744.7 240.1 L745.2 245.3 L745.7 250.2 L746.2 255.0 L746.7 259.5 L747.2 263.8 L747.7 267.8 L748.2 271.5 L748.7 275.0 L749.2 278.1 L749.7 281.0 L750.2 283.5 L750.7 285.7 L751.2 287.6 L751.7 289.1 L752.2 290.3 L752.7 291.2 L753.2 291.8 L753.7 292.1 L754.2 292.0 L754.7 291.6 L755.2 290.9 L755.7 290.0 L756.2 288.7 L756.7 287.1 L757.2 285.3 L757.7 283.2 L758.2 280.9 L758.7 278.3 L759.2 275.5 L759.7 272.6 L760.2 269.4 L760.7 266.0 L761.2 262.5 L761.7 258.9 L762.2 255.1 L762.7 251.3 L763.2 247.3 L763.7 243.3 L764.2 239.2 L764.7 235.1 L765.2 230.9 L765.7 226.8 L766.2 222.7 L766.7 218.6 L767.2 214.5 L767.7 210.6 L768.2 206.8 L768.7 203.1 L769.2 199.5 L769.7 196.0 L770.2 192.6 L770.7 189.4 L771.2 186.3 L771.7 183.4 L772.1 180.6 L772.6 178.0 L773.1 175.6 L773.6 173.4 L774.1 171.4 L774.6 169.6 L775.1 167.9 L775.6 166.5 L776.1 165.3 L776.6 164.3 L777.1 163.5 L777.6 162.9 L778.1 162.5 L778.6 162.3 L779.1 162.3 L779.6 162.5 L780.1 162.8 L780.6 163.4 L781.1 164.1 L781.6 165.1 L782.1 166.1 L782.6 167.4 L783.1 168.7 L783.6 170.3 L784.1 171.9 L784.6 173.7 L785.1 175.6 L785.6 177.5 L786.1 179.6 L786.6 181.8 L787.1 184.0 L787.6 186.3 L788.1 188.6 L788.6 191.0 L789.1 193.4 L789.6 195.8 L790.1 198.2 L790.6 200.6 L791.1 203.0 L791.6 205.4 L792.1 207.8 L792.6 210.1 L793.1 212.4 L793.6 214.7 L794.1 216.9 L794.6 219.1 L795.1 221.1 L795.6 223.1 L796.1 225.0 L796.6 226.8 L797.1 228.5 L797.6 230.0 L798.1 231.5 L798.6 232.9 L799.1 234.1 L799.6 235.2 L800.1 236.2 L800.6 237.1 L801.0 237.9 L801.5 238.5 L802.0 239.0 L802.5 239.4 L803.0 239.6 L803.5 239.8 L804.0 239.8 L804.5 239.7 L805.0 239.6 L805.5 239.3 L806.0 238.9 L806.5 238.4 L807.0 237.8 L807.5 237.1 L808.0 236.3 L808.5 235.5 L809.0 234.6 L809.5 233.6 L810.0 232.5 L810.5 231.4 L811.0 230.3 L811.5 229.1 L812.0 227.8 L812.5 226.6 L813.0 225.3 L813.5 224.0 L814.0 222.6 L814.5 221.3 L815.0 220.0 L815.5 218.6 L816.0 217.3 L816.5 216.0 L817.0 214.7 L817.5 213.4 L818.0 212.1 L818.5 210.9 L819.0 209.8 L819.5 208.7 L820.0 207.6 L820.5 206.6 L821.0 205.6 L821.5 204.7 L822.0 203.8 L822.5 203.0 L823.0 202.3 L823.5 201.6 L824.0 200.9 L824.5 200.3 L825.0 199.8 L825.5 199.4 L826.0 199.0 L826.5 198.6 L827.0 198.4 L827.5 198.2 L828.0 198.0 L828.5 197.9 L829.0 197.9 L829.5 197.9 L829.9 198.0 L830.4 198.1 L830.9 198.3 L831.4 198.5 L831.9 198.8 L832.4 199.1 L832.9 199.4 L833.4 199.8 L833.9 200.2 L834.4 200.7 L834.9 201.2 L835.4 201.7 L835.9 202.2 L836.4 202.8 L836.9 203.4 L837.4 204.0 L837.9 204.6 L838.4 205.2 L838.9 205.8 L839.4 206.4 L839.9 207.0 L840.4 207.7 L840.9 208.3 L841.4 208.9 L841.9 209.5 L842.4 210.1 L842.9 210.7 L843.4 211.2 L843.9 211.8 L844.4 212.3" fill="none" stroke="#2f3a80" stroke-width="1.7" stroke-linejoin="round"/>
<path d="M495.6 216.8 L496.1 217.4 L496.6 217.9 L497.1 218.5 L497.6 219.0 L498.1 219.5 L498.6 220.0 L499.1 220.5 L499.6 221.0 L500.1 221.4 L500.6 221.8 L501.1 222.2 L501.6 222.5 L502.1 222.8 L502.6 223.1 L503.1 223.3 L503.6 223.5 L504.1 223.6 L504.6 223.7 L505.1 223.8 L505.6 223.8 L506.1 223.7 L506.6 223.6 L507.1 223.4 L507.6 223.2 L508.1 222.9 L508.6 222.6 L509.1 222.2 L509.6 221.7 L510.1 221.2 L510.5 220.6 L511.0 220.0 L511.5 219.3 L512.0 218.6 L512.5 217.8 L513.0 216.9 L513.5 216.1 L514.0 215.1 L514.5 214.2 L515.0 213.1 L515.5 212.1 L516.0 211.0 L516.5 209.9 L517.0 208.8 L517.5 207.7 L518.0 206.5 L518.5 205.3 L519.0 204.2 L519.5 203.0 L520.0 201.8 L520.5 200.6 L521.0 199.5 L521.5 198.3 L522.0 197.2 L522.5 196.1 L523.0 195.1 L523.5 194.1 L524.0 193.1 L524.5 192.2 L525.0 191.3 L525.5 190.5 L526.0 189.8 L526.5 189.1 L527.0 188.5 L527.5 188.0 L528.0 187.6 L528.5 187.3 L529.0 187.0 L529.5 186.9 L530.0 186.8 L530.5 186.9 L531.0 187.1 L531.5 187.3 L532.0 187.7 L532.5 188.2 L533.0 188.8 L533.5 189.5 L534.0 190.3 L534.5 191.2 L535.0 192.2 L535.5 193.4 L536.0 194.6 L536.5 196.0 L537.0 197.4 L537.5 198.9 L538.0 200.6 L538.5 202.3 L539.0 204.1 L539.4 205.9 L539.9 207.9 L540.4 209.9 L540.9 211.9 L541.4 214.0 L541.9 216.2 L542.4 218.4 L542.9 220.7 L543.4 222.9 L543.9 225.1 L544.4 227.4 L544.9 229.6 L545.4 231.8 L545.9 234.0 L546.4 236.2 L546.9 238.3 L547.4 240.3 L547.9 242.2 L548.4 244.1 M560.4 244.7 L560.9 242.4 L561.4 240.0 L561.9 237.4 L562.4 234.7 L562.9 231.8 L563.4 228.8 L563.9 225.6 L564.4 222.4 L564.9 219.0 L565.4 215.5 L565.9 211.9 L566.4 208.3 L566.9 204.7 L567.4 201.0 L567.9 197.3 L568.3 193.6 L568.8 189.8 L569.3 186.1 L569.8 182.5 L570.3 178.8 L570.8 175.3 L571.3 171.8 L571.8 168.4 L572.3 165.2 L572.8 162.0 L573.3 159.0 L573.8 156.2 L574.3 153.5 L574.8 151.0 L575.3 148.8 L575.8 146.7 L576.3 144.9 L576.8 143.3 L577.3 141.9 L577.8 140.8 L578.3 140.0 L578.8 139.5 L579.3 139.2 L579.8 139.2 L580.3 139.5 L580.8 140.1 L581.3 141.0 L581.8 142.2 L582.3 143.7 L582.8 145.5 L583.3 147.6 L583.8 150.0 L584.3 152.7 L584.8 155.7 L585.3 158.9 L585.8 162.4 L586.3 166.1 L586.8 170.1 L587.3 174.3 L587.8 178.7 L588.3 183.3 L588.8 188.2 L589.3 193.1 L589.8 198.2 L590.3 203.5 L590.8 208.9 L591.3 214.4 L591.8 220.0 L592.3 225.6 L592.8 231.3 L593.3 237.0 L593.8 242.6 M614.2 240.1 L614.7 233.0 L615.2 225.8 L615.7 218.4 L616.2 210.9 L616.7 203.4 L617.2 195.9 L617.7 188.4 L618.2 180.9 L618.7 173.5 L619.2 166.1 L619.7 158.9 L620.2 151.8 L620.7 144.9 L621.2 138.1 L621.7 131.6 L622.2 125.4 L622.7 119.4 L623.2 113.8 L623.7 108.5 L624.2 103.5 L624.7 99.0 L625.2 94.8 L625.7 91.1 L626.2 87.8 L626.6 85.0 L627.1 82.6 L627.6 80.8 L628.1 79.4 L628.6 78.6 L629.1 78.3 L629.6 78.5 L630.1 79.2 L630.6 80.5 L631.1 82.2 L631.6 84.5 L632.1 87.4 L632.6 90.7 L633.1 94.5 L633.6 98.8 L634.1 103.6 L634.6 108.9 L635.1 114.5 L635.6 120.6 L636.1 127.1 L636.6 134.0 L637.1 141.2 L637.6 148.7 L638.1 156.6 L638.6 164.6 L639.1 173.0 L639.6 181.5 L640.1 190.2 L640.6 199.0 L641.1 207.9 L641.6 216.9 L642.1 226.0 L642.6 235.1 L643.1 244.2 M665.0 240.2 L665.5 230.5 L666.0 220.8 L666.5 211.1 L667.0 201.5 L667.5 191.9 L668.0 182.4 L668.5 173.0 L669.0 163.7 L669.5 154.7 L670.0 145.9 L670.5 137.3 L671.0 129.0 L671.5 121.0 L672.0 113.4 L672.5 106.2 L673.0 99.4 L673.5 93.1 L674.0 87.2 L674.5 81.8 L675.0 76.9 L675.5 72.5 L676.0 68.7 L676.5 65.5 L677.0 62.8 L677.5 60.7 L678.0 59.2 L678.5 58.3 L679.0 58.0 L679.5 58.3 L680.0 59.2 L680.5 60.7 L681.0 62.7 L681.5 65.4 L682.0 68.6 L682.5 72.3 L683.0 76.6 L683.5 81.4 L684.0 86.7 L684.5 92.4 L684.9 98.7 L685.4 105.3 L685.9 112.3 L686.4 119.7 L686.9 127.4 L687.4 135.4 L687.9 143.7 L688.4 152.2 L688.9 161.0 L689.4 169.9 L689.9 178.9 L690.4 188.0 L690.9 197.1 L691.4 206.3 L691.9 215.5 L692.4 224.8 L692.9 233.9 L693.4 243.0 M714.8 245.0 L715.3 237.1 L715.8 229.2 L716.3 221.3 L716.8 213.4 L717.3 205.6 L717.8 198.0 L718.3 190.5 L718.8 183.1 L719.3 175.9 L719.8 169.0 L720.3 162.2 L720.8 155.8 L721.3 149.6 L721.8 143.6 L722.3 138.1 L722.8 132.8 L723.3 128.0 L723.8 123.4 L724.3 119.3 L724.8 115.6 L725.3 112.3 L725.8 109.4 L726.3 107.0 L726.8 104.9 L727.3 103.4 L727.8 102.2 L728.3 101.5 L728.8 101.2 L729.3 101.4 L729.8 101.9 L730.3 103.0 L730.8 104.4 L731.3 106.2 L731.8 108.4 L732.3 111.0 L732.8 113.9 L733.3 117.2 L733.8 120.8 L734.3 124.7 L734.8 128.9 L735.3 133.4 L735.8 138.1 L736.3 143.1 L736.8 148.2 L737.3 153.6 L737.8 159.1 L738.3 164.7 L738.8 170.5 L739.3 176.3 L739.8 182.2 L740.3 188.1 L740.8 194.0 L741.3 200.0 L741.8 205.9 L742.3 211.7 L742.7 217.5 L743.2 223.3 L743.7 228.9 L744.2 234.3 L744.7 239.6 L745.2 244.8 M763.7 242.8 L764.2 238.8 L764.7 234.7 L765.2 230.7 L765.7 226.6 L766.2 222.5 L766.7 218.5 L767.2 214.5 L767.7 210.6 L768.2 206.8 L768.7 203.1 L769.2 199.5 L769.7 196.0 L770.2 192.6 L770.7 189.4 L771.2 186.3 L771.7 183.4 L772.1 180.6 L772.6 178.0 L773.1 175.6 L773.6 173.4 L774.1 171.4 L774.6 169.6 L775.1 167.9 L775.6 166.5 L776.1 165.3 L776.6 164.3 L777.1 163.5 L777.6 162.9 L778.1 162.5 L778.6 162.3 L779.1 162.3 L779.6 162.5 L780.1 162.8 L780.6 163.4 L781.1 164.1 L781.6 165.1 L782.1 166.1 L782.6 167.4 L783.1 168.7 L783.6 170.3 L784.1 171.9 L784.6 173.7 L785.1 175.6 L785.6 177.5 L786.1 179.6 L786.6 181.8 L787.1 184.0 L787.6 186.3 L788.1 188.6 L788.6 191.0 L789.1 193.4 L789.6 195.8 L790.1 198.2 L790.6 200.6 L791.1 203.0 L791.6 205.4 L792.1 207.8 L792.6 210.1 L793.1 212.4 L793.6 214.6 L794.1 216.8 L794.6 218.9 L795.1 221.0 L795.6 222.9 L796.1 224.8 L796.6 226.6 L797.1 228.2 L797.6 229.8 L798.1 231.2 L798.6 232.6 L799.1 233.8 L799.6 234.9 L800.1 235.9 L800.6 236.7 L801.0 237.5 L801.5 238.1 L802.0 238.6 L802.5 239.0 L803.0 239.2 L803.5 239.4 L804.0 239.4 L804.5 239.3 L805.0 239.2 L805.5 238.9 L806.0 238.5 L806.5 238.0 L807.0 237.4 L807.5 236.7 L808.0 236.0 L808.5 235.1 L809.0 234.2 L809.5 233.3 L810.0 232.2 L810.5 231.1 L811.0 230.0 L811.5 228.8 L812.0 227.6 L812.5 226.4 L813.0 225.1 L813.5 223.8 L814.0 222.5 L814.5 221.2 L815.0 219.8 L815.5 218.5 L816.0 217.2 L816.5 215.9 L817.0 214.6 L817.5 213.4 L818.0 212.1 L818.5 210.9 L819.0 209.8 L819.5 208.7 L820.0 207.6 L820.5 206.6 L821.0 205.6 L821.5 204.7 L822.0 203.8 L822.5 203.0 L823.0 202.3 L823.5 201.6 L824.0 200.9 L824.5 200.3 L825.0 199.8 L825.5 199.4 L826.0 199.0 L826.5 198.6 L827.0 198.4 L827.5 198.2 L828.0 198.0 L828.5 197.9 L829.0 197.9 L829.5 197.9 L829.9 198.0 L830.4 198.1 L830.9 198.3 L831.4 198.5 L831.9 198.8 L832.4 199.1 L832.9 199.4 L833.4 199.8 L833.9 200.2 L834.4 200.7 L834.9 201.2 L835.4 201.7 L835.9 202.2 L836.4 202.8 L836.9 203.4 L837.4 204.0 L837.9 204.6 L838.4 205.2 L838.9 205.8 L839.4 206.4 L839.9 207.0 L840.4 207.7 L840.9 208.3 L841.4 208.9 L841.9 209.5 L842.4 210.1 L842.9 210.7 L843.4 211.2 L843.9 211.8 L844.4 212.3" fill="none" stroke="#6e2550" stroke-width="1.7" stroke-linejoin="round"/>
<path d="M495.6 216.7 L496.1 217.3 L496.6 217.8 L497.1 218.4 L497.6 218.9 L498.1 219.4 L498.6 219.9 L499.1 220.4 L499.6 220.8 L500.1 221.3 L500.6 221.7 L501.1 222.0 L501.6 222.4 L502.1 222.7 L502.6 222.9 L503.1 223.2 L503.6 223.3 L504.1 223.5 L504.6 223.6 L505.1 223.6 L505.6 223.6 L506.1 223.5 L506.6 223.4 L507.1 223.2 L507.6 223.0 L508.1 222.7 L508.6 222.4 L509.1 222.0 L509.6 221.5 L510.1 221.0 L510.5 220.5 L511.0 219.9 L511.5 219.2 L512.0 218.5 L512.5 217.7 L513.0 216.9 L513.5 216.0 L514.0 215.1 L514.5 214.1 L515.0 213.1 L515.5 212.1 L516.0 211.0 L516.5 209.9 L517.0 208.8 L517.5 207.7 L518.0 206.5 L518.5 205.3 L519.0 204.2 L519.5 203.0 L520.0 201.8 L520.5 200.6 L521.0 199.5 L521.5 198.3 L522.0 197.2 L522.5 196.1 L523.0 195.1 L523.5 194.1 L524.0 193.1 L524.5 192.2 L525.0 191.3 L525.5 190.5 L526.0 189.8 L526.5 189.1 L527.0 188.5 L527.5 188.0 L528.0 187.6 L528.5 187.3 L529.0 187.0 L529.5 186.9 L530.0 186.8 L530.5 186.9 L531.0 187.1 L531.5 187.3 L532.0 187.7 L532.5 188.2 L533.0 188.8 L533.5 189.5 L534.0 190.3 L534.5 191.2 L535.0 192.2 L535.5 193.4 L536.0 194.6 L536.5 196.0 L537.0 197.4 L537.5 198.9 L538.0 200.6 L538.5 202.3 L539.0 204.1 L539.4 205.9 L539.9 207.9 L540.4 209.9 L540.9 211.9 L541.4 214.0 L541.9 216.1 L542.4 218.3 L542.9 220.5 L543.4 222.7 L543.9 224.9 L544.4 227.2 L544.9 229.4 L545.4 231.5 L545.9 233.7 L546.4 235.8 L546.9 237.9 L547.4 239.8 L547.9 241.8 L548.4 243.6 L548.9 245.4 L549.4 247.0 L549.9 248.6 L550.4 250.0 L550.9 251.3 L551.4 252.5 L551.9 253.5 L552.4 254.4 L552.9 255.1 L553.4 255.6 L553.9 256.0 L554.4 256.2 L554.9 256.2 L555.4 256.1 L555.9 255.8 L556.4 255.2 L556.9 254.5 L557.4 253.6 L557.9 252.5 L558.4 251.2 L558.9 249.7 L559.4 248.1 L559.9 246.2 L560.4 244.2 L560.9 242.0 L561.4 239.6 L561.9 237.1 L562.4 234.4 L562.9 231.5 L563.4 228.5 L563.9 225.4 L564.4 222.2 L564.9 218.9 L565.4 215.4 L565.9 211.9 L566.4 208.3 L566.9 204.7 L567.4 201.0 L567.9 197.3 L568.3 193.6 L568.8 189.8 L569.3 186.1 L569.8 182.5 L570.3 178.8 L570.8 175.3 L571.3 171.8 L571.8 168.4 L572.3 165.2 L572.8 162.0 L573.3 159.0 L573.8 156.2 L574.3 153.5 L574.8 151.0 L575.3 148.8 L575.8 146.7 L576.3 144.9 L576.8 143.3 L577.3 141.9 L577.8 140.8 L578.3 140.0 L578.8 139.5 L579.3 139.2 L579.8 139.2 L580.3 139.5 L580.8 140.1 L581.3 141.0 L581.8 142.2 L582.3 143.7 L582.8 145.5 L583.3 147.6 L583.8 150.0 L584.3 152.7 L584.8 155.7 L585.3 158.9 L585.8 162.4 L586.3 166.1 L586.8 170.1 L587.3 174.3 L587.8 178.7 L588.3 183.3 L588.8 188.2 L589.3 193.1 L589.8 198.2 L590.3 203.5 L590.8 208.9 L591.3 214.3 L591.8 219.8 L592.3 225.4 L592.8 231.0 L593.3 236.6 L593.8 242.2 L594.3 247.7 L594.8 253.1 L595.3 258.5 L595.8 263.8 L596.3 268.9 L596.8 273.9 L597.3 278.6 L597.7 283.2 L598.2 287.6 L598.7 291.7 L599.2 295.5 L599.7 299.1 L600.2 302.3 L600.7 305.2 L601.2 307.8 L601.7 310.1 L602.2 311.9 L602.7 313.4 L603.2 314.5 L603.7 315.3 L604.2 315.6 L604.7 315.5 L605.2 314.9 L605.7 314.0 L606.2 312.6 L606.7 310.9 L607.2 308.7 L607.7 306.1 L608.2 303.1 L608.7 299.7 L609.2 295.9 L609.7 291.7 L610.2 287.1 L610.7 282.2 L611.2 277.0 L611.7 271.5 L612.2 265.6 L612.7 259.5 L613.2 253.1 L613.7 246.5 L614.2 239.7 L614.7 232.7 L615.2 225.5 L615.7 218.3 L616.2 210.9 L616.7 203.4 L617.2 195.9 L617.7 188.4 L618.2 180.9 L618.7 173.5 L619.2 166.1 L619.7 158.9 L620.2 151.8 L620.7 144.9 L621.2 138.1 L621.7 131.6 L622.2 125.4 L622.7 119.4 L623.2 113.8 L623.7 108.5 L624.2 103.5 L624.7 99.0 L625.2 94.8 L625.7 91.1 L626.2 87.8 L626.6 85.0 L627.1 82.6 L627.6 80.8 L628.1 79.4 L628.6 78.6 L629.1 78.3 L629.6 78.5 L630.1 79.2 L630.6 80.5 L631.1 82.2 L631.6 84.5 L632.1 87.4 L632.6 90.7 L633.1 94.5 L633.6 98.8 L634.1 103.6 L634.6 108.9 L635.1 114.5 L635.6 120.6 L636.1 127.1 L636.6 134.0 L637.1 141.2 L637.6 148.7 L638.1 156.6 L638.6 164.6 L639.1 173.0 L639.6 181.5 L640.1 190.2 L640.6 199.0 L641.1 207.9 L641.6 216.8 L642.1 225.8 L642.6 234.8 L643.1 243.7 L643.6 252.6 L644.1 261.3 L644.6 269.9 L645.1 278.3 L645.6 286.4 L646.1 294.3 L646.6 301.9 L647.1 309.2 L647.6 316.2 L648.1 322.7 L648.6 328.9 L649.1 334.6 L649.6 339.8 L650.1 344.6 L650.6 348.8 L651.1 352.6 L651.6 355.7 L652.1 358.4 L652.6 360.5 L653.1 361.9 L653.6 362.9 L654.1 363.2 L654.6 362.9 L655.1 362.0 L655.5 360.6 L656.0 358.5 L656.5 355.9 L657.0 352.7 L657.5 348.9 L658.0 344.6 L658.5 339.8 L659.0 334.5 L659.5 328.6 L660.0 322.3 L660.5 315.6 L661.0 308.4 L661.5 300.9 L662.0 292.9 L662.5 284.7 L663.0 276.2 L663.5 267.4 L664.0 258.3 L664.5 249.1 L665.0 239.7 L665.5 230.3 L666.0 220.7 L666.5 211.1 L667.0 201.5 L667.5 191.9 L668.0 182.4 L668.5 173.0 L669.0 163.7 L669.5 154.7 L670.0 145.9 L670.5 137.3 L671.0 129.0 L671.5 121.0 L672.0 113.4 L672.5 106.2 L673.0 99.4 L673.5 93.1 L674.0 87.2 L674.5 81.8 L675.0 76.9 L675.5 72.5 L676.0 68.7 L676.5 65.5 L677.0 62.8 L677.5 60.7 L678.0 59.2 L678.5 58.3 L679.0 58.0 L679.5 58.3 L680.0 59.2 L680.5 60.7 L681.0 62.7 L681.5 65.4 L682.0 68.6 L682.5 72.3 L683.0 76.6 L683.5 81.4 L684.0 86.7 L684.5 92.4 L684.9 98.7 L685.4 105.3 L685.9 112.3 L686.4 119.7 L686.9 127.4 L687.4 135.4 L687.9 143.7 L688.4 152.2 L688.9 161.0 L689.4 169.9 L689.9 178.9 L690.4 188.0 L690.9 197.1 L691.4 206.3 L691.9 215.5 L692.4 224.6 L692.9 233.6 L693.4 242.5 L693.9 251.2 L694.4 259.7 L694.9 268.1 L695.4 276.1 L695.9 283.9 L696.4 291.3 L696.9 298.4 L697.4 305.1 L697.9 311.4 L698.4 317.3 L698.9 322.7 L699.4 327.7 L699.9 332.2 L700.4 336.2 L700.9 339.7 L701.4 342.7 L701.9 345.1 L702.4 347.1 L702.9 348.4 L703.4 349.3 L703.9 349.6 L704.4 349.3 L704.9 348.5 L705.4 347.2 L705.9 345.4 L706.4 343.1 L706.9 340.2 L707.4 336.9 L707.9 333.2 L708.4 328.9 L708.9 324.3 L709.4 319.3 L709.9 313.8 L710.4 308.0 L710.9 301.9 L711.4 295.5 L711.9 288.8 L712.4 281.9 L712.9 274.7 L713.4 267.4 L713.8 259.9 L714.3 252.2 L714.8 244.5 L715.3 236.7 L715.8 228.9 L716.3 221.1 L716.8 213.3 L717.3 205.6 L717.8 198.0 L718.3 190.5 L718.8 183.1 L719.3 175.9 L719.8 169.0 L720.3 162.2 L720.8 155.8 L721.3 149.6 L721.8 143.6 L722.3 138.1 L722.8 132.8 L723.3 128.0 L723.8 123.4 L724.3 119.3 L724.8 115.6 L725.3 112.3 L725.8 109.4 L726.3 107.0 L726.8 104.9 L727.3 103.4 L727.8 102.2 L728.3 101.5 L728.8 101.2 L729.3 101.4 L729.8 101.9 L730.3 103.0 L730.8 104.4 L731.3 106.2 L731.8 108.4 L732.3 111.0 L732.8 113.9 L733.3 117.2 L733.8 120.8 L734.3 124.7 L734.8 128.9 L735.3 133.4 L735.8 138.1 L736.3 143.1 L736.8 148.2 L737.3 153.6 L737.8 159.1 L738.3 164.7 L738.8 170.5 L739.3 176.3 L739.8 182.2 L740.3 188.1 L740.8 194.0 L741.3 200.0 L741.8 205.9 L742.3 211.7 L742.7 217.4 L743.2 223.1 L743.7 228.6 L744.2 234.0 L744.7 239.2 L745.2 244.3 L745.7 249.1 L746.2 253.7 L746.7 258.1 L747.2 262.3 L747.7 266.2 L748.2 269.8 L748.7 273.1 L749.2 276.2 L749.7 278.9 L750.2 281.4 L750.7 283.5 L751.2 285.3 L751.7 286.9 L752.2 288.0 L752.7 288.9 L753.2 289.5 L753.7 289.7 L754.2 289.7 L754.7 289.3 L755.2 288.6 L755.7 287.7 L756.2 286.4 L756.7 284.9 L757.2 283.1 L757.7 281.1 L758.2 278.9 L758.7 276.4 L759.2 273.7 L759.7 270.8 L760.2 267.7 L760.7 264.4 L761.2 261.0 L761.7 257.5 L762.2 253.9 L762.7 250.1 L763.2 246.3 L763.7 242.3 L764.2 238.4 L764.7 234.4 L765.2 230.4 L765.7 226.3 L766.2 222.3 L766.7 218.4 L767.2 214.4 L767.7 210.6 L768.2 206.8 L768.7 203.1 L769.2 199.5 L769.7 196.0 L770.2 192.6 L770.7 189.4 L771.2 186.3 L771.7 183.4 L772.1 180.6 L772.6 178.0 L773.1 175.6 L773.6 173.4 L774.1 171.4 L774.6 169.6 L775.1 167.9 L775.6 166.5 L776.1 165.3 L776.6 164.3 L777.1 163.5 L777.6 162.9 L778.1 162.5 L778.6 162.3 L779.1 162.3 L779.6 162.5 L780.1 162.8 L780.6 163.4 L781.1 164.1 L781.6 165.1 L782.1 166.1 L782.6 167.4 L783.1 168.7 L783.6 170.3 L784.1 171.9 L784.6 173.7 L785.1 175.6 L785.6 177.5 L786.1 179.6 L786.6 181.8 L787.1 184.0 L787.6 186.3 L788.1 188.6 L788.6 191.0 L789.1 193.4 L789.6 195.8 L790.1 198.2 L790.6 200.6 L791.1 203.0 L791.6 205.4 L792.1 207.8 L792.6 210.1 L793.1 212.4 L793.6 214.6 L794.1 216.7 L794.6 218.8 L795.1 220.8 L795.6 222.8 L796.1 224.6 L796.6 226.3 L797.1 228.0 L797.6 229.5 L798.1 230.9 L798.6 232.2 L799.1 233.4 L799.6 234.5 L800.1 235.5 L800.6 236.4 L801.0 237.1 L801.5 237.7 L802.0 238.2 L802.5 238.6 L803.0 238.8 L803.5 239.0 L804.0 239.0 L804.5 238.9 L805.0 238.7 L805.5 238.5 L806.0 238.1 L806.5 237.6 L807.0 237.0 L807.5 236.3 L808.0 235.6 L808.5 234.8 L809.0 233.9 L809.5 232.9 L810.0 231.9 L810.5 230.9 L811.0 229.7 L811.5 228.6 L812.0 227.4 L812.5 226.1 L813.0 224.9 L813.5 223.6 L814.0 222.3 L814.5 221.0 L815.0 219.7 L815.5 218.4 L816.0 217.1 L816.5 215.8 L817.0 214.6 L817.5 213.3 L818.0 212.1 L818.5 210.9 L819.0 209.8 L819.5 208.7 L820.0 207.6 L820.5 206.6 L821.0 205.6 L821.5 204.7 L822.0 203.8 L822.5 203.0 L823.0 202.3 L823.5 201.6 L824.0 200.9 L824.5 200.3 L825.0 199.8 L825.5 199.4 L826.0 199.0 L826.5 198.6 L827.0 198.4 L827.5 198.2 L828.0 198.0 L828.5 197.9 L829.0 197.9 L829.5 197.9 L829.9 198.0 L830.4 198.1 L830.9 198.3 L831.4 198.5 L831.9 198.8 L832.4 199.1 L832.9 199.4 L833.4 199.8 L833.9 200.2 L834.4 200.7 L834.9 201.2 L835.4 201.7 L835.9 202.2 L836.4 202.8 L836.9 203.4 L837.4 204.0 L837.9 204.6 L838.4 205.2 L838.9 205.8 L839.4 206.4 L839.9 207.0 L840.4 207.7 L840.9 208.3 L841.4 208.9 L841.9 209.5 L842.4 210.1 L842.9 210.7 L843.4 211.2 L843.9 211.8 L844.4 212.3" fill="none" stroke="#a3222e" stroke-width="2.2" stroke-dasharray="4.1 2.1"/>
</g></g>
<rect x="495.6" y="51.2" width="348.80" height="320.00" fill="none" stroke="#111" stroke-width="2"/>
<line x1="490.60" y1="71.90" x2="495.60" y2="71.90" stroke="#111" stroke-width="2"/>
<g transform="translate(485.89,78.50) scale(0.955,1)"><text x="-36.14" y="0" class="t">0.3</text></g>
<line x1="490.60" y1="118.43" x2="495.60" y2="118.43" stroke="#111" stroke-width="2"/>
<g transform="translate(487.24,125.03) scale(0.955,1)"><text x="-36.14" y="0" class="t">0.2</text></g>
<line x1="490.60" y1="164.97" x2="495.60" y2="164.97" stroke="#111" stroke-width="2"/>
<g transform="translate(487.11,171.57) scale(0.955,1)"><text x="-36.14" y="0" class="t">0. </text><path d="M-12.51 -15.21 L-7.54 -18.20 L-7.54 0.00" fill="none" stroke="#111" stroke-width="2.29" stroke-linejoin="miter"/></g>
<line x1="490.60" y1="211.50" x2="495.60" y2="211.50" stroke="#111" stroke-width="2"/>
<g transform="translate(483.37,218.10) scale(0.955,1)"><text x="-14.46" y="0" class="t">0</text></g>
<line x1="490.60" y1="258.03" x2="495.60" y2="258.03" stroke="#111" stroke-width="2"/>
<g transform="translate(490.01,264.63) scale(0.955,1)"><text x="-44.80" y="0" class="t">-0. </text><path d="M-12.51 -15.21 L-7.54 -18.20 L-7.54 0.00" fill="none" stroke="#111" stroke-width="2.29" stroke-linejoin="miter"/></g>
<line x1="490.60" y1="304.57" x2="495.60" y2="304.57" stroke="#111" stroke-width="2"/>
<g transform="translate(486.64,311.17) scale(0.955,1)"><text x="-44.80" y="0" class="t">-0.2</text></g>
<line x1="490.60" y1="351.10" x2="495.60" y2="351.10" stroke="#111" stroke-width="2"/>
<g transform="translate(486.49,357.70) scale(0.955,1)"><text x="-44.80" y="0" class="t">-0.3</text></g>
<line x1="520.51" y1="371.20" x2="520.51" y2="376.70" stroke="#111" stroke-width="2"/>
<g transform="translate(521.91,403.20) scale(1.0,1)"><text x="-11.56" y="0" class="t">-6</text></g>
<line x1="570.34" y1="371.20" x2="570.34" y2="376.70" stroke="#111" stroke-width="2"/>
<g transform="translate(571.74,403.20) scale(1.0,1)"><text x="-11.56" y="0" class="t">-4</text></g>
<line x1="620.17" y1="371.20" x2="620.17" y2="376.70" stroke="#111" stroke-width="2"/>
<g transform="translate(621.57,403.20) scale(1.0,1)"><text x="-11.56" y="0" class="t">-2</text></g>
<line x1="670.00" y1="371.20" x2="670.00" y2="376.70" stroke="#111" stroke-width="2"/>
<g transform="translate(670.30,403.20) scale(1.0,1)"><text x="-7.23" y="0" class="t">0</text></g>
<line x1="719.83" y1="371.20" x2="719.83" y2="376.70" stroke="#111" stroke-width="2"/>
<g transform="translate(719.23,403.20) scale(1.0,1)"><text x="-7.23" y="0" class="t">2</text></g>
<line x1="769.66" y1="371.20" x2="769.66" y2="376.70" stroke="#111" stroke-width="2"/>
<g transform="translate(769.06,403.20) scale(1.0,1)"><text x="-7.23" y="0" class="t">4</text></g>
<line x1="819.49" y1="371.20" x2="819.49" y2="376.70" stroke="#111" stroke-width="2"/>
<g transform="translate(818.89,403.20) scale(1.0,1)"><text x="-7.23" y="0" class="t">6</text></g>
<g transform="translate(678.20,437.20) scale(1.0,1)"><text x="-51.27" y="0" class="t">Time (fs)</text></g>
<g transform="translate(520.69,91.90) scale(1.0,1)"><text x="0.00" y="0" class="t">0.9</text></g>
<g transform="translate(562.51,91.9) scale(0.88,1)"><text x="0" y="0" class="t">V</text></g>
<path d="M580.30 92.6 L586.20 72.7" stroke="#111" stroke-width="2.1" fill="none"/>
<g transform="translate(589.45,91.9) scale(0.89,1)"><text x="0" y="0" class="t">A</text></g>
<circle cx="597.17" cy="69.3" r="2.2" fill="none" stroke="#111" stroke-width="1.3"/>
<clipPath id="clipc"><rect x="900.8" y="50.7" width="349.20" height="319.60"/></clipPath>
<g clip-path="url(#clipc)"><g filter="url(#soft)">
<path d="M900.8 215.9 L901.3 216.5 L901.8 217.0 L902.3 217.6 L902.8 218.1 L903.3 218.7 L903.8 219.2 L904.3 219.7 L904.8 220.1 L905.3 220.6 L905.8 221.0 L906.3 221.4 L906.8 221.7 L907.3 222.0 L907.8 222.3 L908.3 222.5 L908.8 222.7 L909.3 222.9 L909.8 222.9 L910.3 223.0 L910.8 223.0 L911.3 222.9 L911.8 222.8 L912.3 222.6 L912.8 222.4 L913.3 222.1 L913.8 221.8 L914.3 221.4 L914.8 220.9 L915.3 220.4 L915.8 219.8 L916.3 219.2 L916.8 218.5 L917.3 217.7 L917.8 216.9 L918.3 216.1 L918.8 215.2 L919.3 214.2 L919.8 213.2 L920.3 212.2 L920.8 211.2 L921.3 210.1 L921.8 208.9 L922.3 207.8 L922.7 206.6 L923.2 205.4 L923.7 204.2 L924.2 203.0 L924.7 201.8 L925.2 200.6 L925.7 199.4 L926.2 198.2 L926.7 197.0 L927.2 195.9 L927.7 194.8 L928.2 193.7 L928.7 192.6 L929.2 191.6 L929.7 190.7 L930.2 189.8 L930.7 189.0 L931.2 188.3 L931.7 187.6 L932.2 187.0 L932.7 186.5 L933.2 186.0 L933.7 185.7 L934.2 185.4 L934.7 185.3 L935.2 185.3 L935.7 185.3 L936.2 185.5 L936.7 185.8 L937.2 186.1 L937.7 186.6 L938.2 187.2 L938.7 188.0 L939.2 188.8 L939.7 189.7 L940.2 190.8 L940.7 192.0 L941.2 193.2 L941.7 194.6 L942.2 196.1 L942.7 197.7 L943.2 199.3 L943.7 201.1 L944.2 202.9 L944.7 204.8 L945.2 206.8 L945.7 208.9 L946.2 211.0 L946.7 213.1 L947.2 215.3 L947.7 217.6 L948.2 219.8 L948.7 222.1 L949.2 224.4 L949.7 226.6 L950.2 228.9 L950.7 231.1 L951.2 233.3 L951.7 235.5 L952.2 237.6 L952.7 239.6 L953.2 241.6 L953.7 243.5 L954.2 245.2 L954.7 246.9 L955.2 248.5 L955.7 249.9 L956.2 251.3 L956.7 252.4 L957.2 253.5 L957.7 254.4 L958.2 255.1 L958.7 255.6 L959.2 256.0 L959.7 256.2 L960.2 256.2 L960.7 256.1 L961.2 255.7 L961.7 255.2 L962.2 254.4 L962.7 253.5 L963.2 252.4 L963.7 251.1 L964.2 249.5 L964.7 247.8 L965.2 246.0 L965.7 243.9 L966.2 241.6 L966.6 239.2 L967.1 236.6 L967.6 233.8 L968.1 230.9 L968.6 227.9 L969.1 224.7 L969.6 221.4 L970.1 218.0 L970.6 214.5 L971.1 211.0 L971.6 207.3 L972.1 203.6 L972.6 199.9 L973.1 196.1 L973.6 192.4 L974.1 188.6 L974.6 184.9 L975.1 181.2 L975.6 177.5 L976.1 174.0 L976.6 170.5 L977.1 167.2 L977.6 163.9 L978.1 160.9 L978.6 158.0 L979.1 155.2 L979.6 152.7 L980.1 150.4 L980.6 148.3 L981.1 146.4 L981.6 144.8 L982.1 143.4 L982.6 142.2 L983.1 141.3 L983.6 140.6 L984.1 140.2 L984.6 140.0 L985.1 140.0 L985.6 140.3 L986.1 140.8 L986.6 141.6 L987.1 142.6 L987.6 144.0 L988.1 145.6 L988.6 147.5 L989.1 149.7 L989.6 152.2 L990.1 155.0 L990.6 158.1 L991.1 161.5 L991.6 165.2 L992.1 169.1 L992.6 173.3 L993.1 177.7 L993.6 182.3 L994.1 187.1 L994.6 192.1 L995.1 197.2 L995.6 202.5 L996.1 207.9 L996.6 213.4 L997.1 218.9 L997.6 224.5 L998.1 230.1 L998.6 235.8 L999.1 241.3 L999.6 246.9 L1000.1 252.3 L1000.6 257.7 L1001.1 262.9 L1001.6 268.0 L1002.1 272.9 L1002.6 277.5 L1003.1 281.9 L1003.6 286.0 L1004.1 289.8 L1004.6 293.2 L1005.1 296.3 L1005.6 298.9 L1006.1 301.2 L1006.6 303.1 L1007.1 304.6 L1007.6 305.9 L1008.1 306.8 L1008.6 307.4 L1009.1 307.8 L1009.6 308.0 L1010.0 307.9 L1010.5 307.6 L1011.0 307.0 L1011.5 306.2 L1012.0 305.0 L1012.5 303.5 L1013.0 301.6 L1013.5 299.3 L1014.0 296.5 L1014.5 293.2 L1015.0 289.5 L1015.5 285.3 L1016.0 280.6 L1016.5 275.6 L1017.0 270.2 L1017.5 264.4 L1018.0 258.3 L1018.5 252.0 L1019.0 245.4 L1019.5 238.6 L1020.0 231.7 L1020.5 224.5 L1021.0 217.3 L1021.5 209.9 L1022.0 202.5 L1022.5 195.1 L1023.0 187.7 L1023.5 180.3 L1024.0 173.0 L1024.5 165.8 L1025.0 158.9 L1025.5 152.2 L1026.0 145.9 L1026.5 140.1 L1027.0 135.0 L1027.5 130.5 L1028.0 126.9 L1028.5 123.9 L1029.0 121.7 L1029.5 120.0 L1030.0 118.8 L1030.5 117.9 L1031.0 117.3 L1031.5 116.9 L1032.0 116.6 L1032.5 116.4 L1033.0 116.2 L1033.5 116.1 L1034.0 116.1 L1034.5 116.1 L1035.0 116.1 L1035.5 116.1 L1036.0 116.2 L1036.5 116.3 L1037.0 116.5 L1037.5 116.8 L1038.0 117.3 L1038.5 117.9 L1039.0 118.8 L1039.5 120.1 L1040.0 122.0 L1040.5 124.5 L1041.0 127.8 L1041.5 132.0 L1042.0 137.1 L1042.5 143.0 L1043.0 149.7 L1043.5 156.9 L1044.0 164.6 L1044.5 172.6 L1045.0 181.0 L1045.5 189.5 L1046.0 198.2 L1046.5 207.0 L1047.0 215.8 L1047.5 224.7 L1048.0 233.6 L1048.5 242.4 L1049.0 251.1 L1049.5 259.7 L1050.0 268.1 L1050.5 276.2 L1051.0 283.9 L1051.5 291.1 L1052.0 297.6 L1052.5 303.2 L1053.0 307.6 L1053.5 310.9 L1053.9 313.2 L1054.4 314.7 L1054.9 315.7 L1055.4 316.3 L1055.9 316.7 L1056.4 317.0 L1056.9 317.1 L1057.4 317.3 L1057.9 317.3 L1058.4 317.4 L1058.9 317.4 L1059.4 317.4 L1059.9 317.4 L1060.4 317.4 L1060.9 317.3 L1061.4 317.3 L1061.9 317.2 L1062.4 317.0 L1062.9 316.7 L1063.4 316.3 L1063.9 315.7 L1064.4 314.7 L1064.9 313.1 L1065.4 310.7 L1065.9 307.2 L1066.4 302.5 L1066.9 296.7 L1067.4 289.8 L1067.9 282.2 L1068.4 274.1 L1068.9 265.6 L1069.4 256.7 L1069.9 247.7 L1070.4 238.4 L1070.9 229.1 L1071.4 219.6 L1071.9 210.1 L1072.4 200.7 L1072.9 191.2 L1073.4 181.9 L1073.9 172.8 L1074.4 163.8 L1074.9 155.3 L1075.4 147.2 L1075.9 139.9 L1076.4 133.4 L1076.9 128.1 L1077.4 124.1 L1077.9 121.1 L1078.4 119.1 L1078.9 117.7 L1079.4 116.9 L1079.9 116.3 L1080.4 116.1 L1080.9 116.0 L1081.4 116.0 L1081.9 116.1 L1082.4 116.2 L1082.9 116.2 L1083.4 116.3 L1083.9 116.3 L1084.4 116.3 L1084.9 116.3 L1085.4 116.3 L1085.9 116.2 L1086.4 116.2 L1086.9 116.1 L1087.4 116.0 L1087.9 116.0 L1088.4 116.0 L1088.9 116.3 L1089.4 116.8 L1089.9 117.6 L1090.4 118.8 L1090.9 120.7 L1091.4 123.4 L1091.9 127.2 L1092.4 132.2 L1092.9 138.2 L1093.4 145.2 L1093.9 152.8 L1094.4 161.0 L1094.9 169.6 L1095.4 178.4 L1095.9 187.3 L1096.4 196.4 L1096.9 205.4 L1097.3 214.5 L1097.8 223.5 L1098.3 232.4 L1098.8 241.3 L1099.3 249.9 L1099.8 258.3 L1100.3 266.5 L1100.8 274.3 L1101.3 281.8 L1101.8 288.7 L1102.3 295.0 L1102.8 300.4 L1103.3 305.0 L1103.8 308.5 L1104.3 311.1 L1104.8 313.0 L1105.3 314.3 L1105.8 315.2 L1106.3 315.8 L1106.8 316.2 L1107.3 316.5 L1107.8 316.7 L1108.3 316.8 L1108.8 316.8 L1109.3 316.9 L1109.8 316.8 L1110.3 316.8 L1110.8 316.7 L1111.3 316.5 L1111.8 316.3 L1112.3 315.9 L1112.8 315.4 L1113.3 314.6 L1113.8 313.5 L1114.3 312.0 L1114.8 309.7 L1115.3 306.8 L1115.8 303.0 L1116.3 298.3 L1116.8 292.9 L1117.3 286.8 L1117.8 280.3 L1118.3 273.4 L1118.8 266.2 L1119.3 258.8 L1119.8 251.2 L1120.3 243.5 L1120.8 235.8 L1121.3 228.0 L1121.8 220.2 L1122.3 212.4 L1122.8 204.7 L1123.3 197.1 L1123.8 189.6 L1124.3 182.3 L1124.8 175.1 L1125.3 168.3 L1125.8 161.7 L1126.3 155.5 L1126.8 149.7 L1127.3 144.4 L1127.8 139.6 L1128.3 135.4 L1128.8 131.8 L1129.3 128.7 L1129.8 126.3 L1130.3 124.3 L1130.8 122.8 L1131.3 121.6 L1131.8 120.7 L1132.3 120.1 L1132.8 119.6 L1133.3 119.3 L1133.8 119.1 L1134.3 119.0 L1134.8 119.0 L1135.3 119.2 L1135.8 119.4 L1136.3 119.8 L1136.8 120.4 L1137.3 121.1 L1137.8 122.1 L1138.3 123.3 L1138.8 124.9 L1139.3 126.9 L1139.8 129.2 L1140.3 132.1 L1140.8 135.4 L1141.2 139.2 L1141.7 143.4 L1142.2 148.0 L1142.7 153.0 L1143.2 158.2 L1143.7 163.7 L1144.2 169.3 L1144.7 175.1 L1145.2 181.0 L1145.7 186.9 L1146.2 192.9 L1146.7 198.9 L1147.2 204.9 L1147.7 210.7 L1148.2 216.6 L1148.7 222.3 L1149.2 227.9 L1149.7 233.4 L1150.2 238.7 L1150.7 243.8 L1151.2 248.7 L1151.7 253.4 L1152.2 257.9 L1152.7 262.1 L1153.2 266.0 L1153.7 269.6 L1154.2 273.0 L1154.7 276.0 L1155.2 278.8 L1155.7 281.2 L1156.2 283.3 L1156.7 285.1 L1157.2 286.5 L1157.7 287.7 L1158.2 288.5 L1158.7 289.0 L1159.2 289.3 L1159.7 289.3 L1160.2 288.9 L1160.7 288.3 L1161.2 287.5 L1161.7 286.3 L1162.2 284.9 L1162.7 283.2 L1163.2 281.2 L1163.7 279.0 L1164.2 276.6 L1164.7 273.9 L1165.2 271.0 L1165.7 267.9 L1166.2 264.7 L1166.7 261.2 L1167.2 257.7 L1167.7 253.9 L1168.2 250.1 L1168.7 246.2 L1169.2 242.2 L1169.7 238.1 L1170.2 234.0 L1170.7 229.9 L1171.2 225.8 L1171.7 221.7 L1172.2 217.6 L1172.7 213.6 L1173.2 209.6 L1173.7 205.7 L1174.2 201.9 L1174.7 198.2 L1175.2 194.6 L1175.7 191.1 L1176.2 187.8 L1176.7 184.7 L1177.2 181.7 L1177.7 178.8 L1178.2 176.2 L1178.7 173.7 L1179.2 171.5 L1179.7 169.4 L1180.2 167.6 L1180.7 165.9 L1181.2 164.5 L1181.7 163.2 L1182.2 162.2 L1182.7 161.4 L1183.2 160.8 L1183.7 160.4 L1184.2 160.1 L1184.6 160.1 L1185.1 160.3 L1185.6 160.7 L1186.1 161.2 L1186.6 162.0 L1187.1 162.9 L1187.6 163.9 L1188.1 165.1 L1188.6 166.5 L1189.1 168.1 L1189.6 169.7 L1190.1 171.5 L1190.6 173.4 L1191.1 175.4 L1191.6 177.6 L1192.1 179.8 L1192.6 182.0 L1193.1 184.4 L1193.6 186.8 L1194.1 189.2 L1194.6 191.7 L1195.1 194.2 L1195.6 196.7 L1196.1 199.3 L1196.6 201.8 L1197.1 204.2 L1197.6 206.7 L1198.1 209.1 L1198.6 211.5 L1199.1 213.8 L1199.6 216.0 L1200.1 218.2 L1200.6 220.3 L1201.1 222.3 L1201.6 224.2 L1202.1 226.0 L1202.6 227.8 L1203.1 229.4 L1203.6 230.9 L1204.1 232.2 L1204.6 233.5 L1205.1 234.6 L1205.6 235.7 L1206.1 236.5 L1206.6 237.3 L1207.1 238.0 L1207.6 238.5 L1208.1 238.9 L1208.6 239.2 L1209.1 239.3 L1209.6 239.4 L1210.1 239.3 L1210.6 239.1 L1211.1 238.8 L1211.6 238.4 L1212.1 237.9 L1212.6 237.3 L1213.1 236.6 L1213.6 235.8 L1214.1 235.0 L1214.6 234.0 L1215.1 233.0 L1215.6 232.0 L1216.1 230.9 L1216.6 229.7 L1217.1 228.5 L1217.6 227.2 L1218.1 225.9 L1218.6 224.6 L1219.1 223.3 L1219.6 221.9 L1220.1 220.5 L1220.6 219.2 L1221.1 217.8 L1221.6 216.5 L1222.1 215.1 L1222.6 213.8 L1223.1 212.5 L1223.6 211.2 L1224.1 210.0 L1224.6 208.8 L1225.1 207.6 L1225.6 206.5 L1226.1 205.4 L1226.6 204.4 L1227.1 203.4 L1227.6 202.5 L1228.1 201.7 L1228.5 200.9 L1229.0 200.1 L1229.5 199.5 L1230.0 198.8 L1230.5 198.3 L1231.0 197.8 L1231.5 197.4 L1232.0 197.1 L1232.5 196.8 L1233.0 196.6 L1233.5 196.4 L1234.0 196.3 L1234.5 196.3 L1235.0 196.3 L1235.5 196.4 L1236.0 196.5 L1236.5 196.7 L1237.0 196.9 L1237.5 197.2 L1238.0 197.5 L1238.5 197.9 L1239.0 198.3 L1239.5 198.8 L1240.0 199.2 L1240.5 199.7 L1241.0 200.3 L1241.5 200.9 L1242.0 201.4 L1242.5 202.0 L1243.0 202.7 L1243.5 203.3 L1244.0 203.9 L1244.5 204.6 L1245.0 205.2 L1245.5 205.9 L1246.0 206.5 L1246.5 207.2 L1247.0 207.8 L1247.5 208.5 L1248.0 209.1 L1248.5 209.7 L1249.0 210.3 L1249.5 210.8 L1250.0 211.4" fill="none" stroke="#2f3a80" stroke-width="1.7" stroke-linejoin="round"/>
<path d="M900.8 215.9 L901.3 216.5 L901.8 217.0 L902.3 217.6 L902.8 218.1 L903.3 218.7 L903.8 219.2 L904.3 219.7 L904.8 220.1 L905.3 220.6 L905.8 221.0 L906.3 221.4 L906.8 221.7 L907.3 222.0 L907.8 222.3 L908.3 222.5 L908.8 222.7 L909.3 222.9 L909.8 222.9 L910.3 223.0 L910.8 223.0 L911.3 222.9 L911.8 222.8 L912.3 222.6 L912.8 222.4 L913.3 222.1 L913.8 221.8 L914.3 221.4 L914.8 220.9 L915.3 220.4 L915.8 219.8 L916.3 219.2 L916.8 218.5 L917.3 217.7 L917.8 216.9 L918.3 216.1 L918.8 215.2 L919.3 214.2 L919.8 213.2 L920.3 212.2 L920.8 211.2 L921.3 210.1 L921.8 208.9 L922.3 207.8 L922.7 206.6 L923.2 205.4 L923.7 204.2 L924.2 203.0 L924.7 201.8 L925.2 200.6 L925.7 199.4 L926.2 198.2 L926.7 197.0 L927.2 195.8 L927.7 194.7 L928.2 193.6 L928.7 192.6 L929.2 191.6 L929.7 190.7 L930.2 189.8 L930.7 189.0 L931.2 188.2 L931.7 187.5 L932.2 186.9 L932.7 186.4 L933.2 186.0 L933.7 185.6 L934.2 185.4 L934.7 185.2 L935.2 185.2 L935.7 185.3 L936.2 185.4 L936.7 185.7 L937.2 186.1 L937.7 186.6 L938.2 187.2 L938.7 187.9 L939.2 188.8 L939.7 189.7 L940.2 190.8 L940.7 191.9 L941.2 193.2 L941.7 194.6 L942.2 196.1 L942.7 197.6 L943.2 199.3 L943.7 201.1 L944.2 202.9 L944.7 204.8 L945.2 206.8 L945.7 208.9 L946.2 211.0 L946.7 213.1 L947.2 215.3 L947.7 217.6 L948.2 219.8 L948.7 222.1 L949.2 224.4 L949.7 226.6 L950.2 228.9 L950.7 231.1 L951.2 233.3 L951.7 235.5 L952.2 237.6 L952.7 239.6 L953.2 241.6 L953.7 243.5 L954.2 245.3 L954.7 246.9 L955.2 248.5 L955.7 250.0 L956.2 251.3 L956.7 252.5 L957.2 253.5 L957.7 254.4 L958.2 255.1 L958.7 255.7 L959.2 256.1 L959.7 256.3 L960.2 256.3 L960.7 256.1 L961.2 255.8 L961.7 255.2 L962.2 254.5 L962.7 253.5 L963.2 252.4 L963.7 251.1 L964.2 249.6 L964.7 247.9 L965.2 246.0 L965.7 243.9 L966.2 241.6 L966.6 239.2 L967.1 236.6 L967.6 233.9 L968.1 230.9 L968.6 227.9 L969.1 224.7 L969.6 221.4 L970.1 218.0 L970.6 214.5 L971.1 211.0 L971.6 207.3 L972.1 203.6 L972.6 199.9 L973.1 196.1 L973.6 192.3 L974.1 188.6 L974.6 184.8 L975.1 181.1 L975.6 177.4 L976.1 173.9 L976.6 170.4 L977.1 167.0 L977.6 163.7 L978.1 160.6 L978.6 157.6 L979.1 154.8 L979.6 152.2 M990.1 154.6 L990.6 157.8 L991.1 161.2 L991.6 165.0 L992.1 168.9 L992.6 173.2 L993.1 177.6 L993.6 182.2 L994.1 187.1 L994.6 192.1 L995.1 197.2 L995.6 202.5 L996.1 207.9 L996.6 213.4 L997.1 218.9 L997.6 224.5 L998.1 230.1 L998.6 235.8 L999.1 241.4 L999.6 246.9 L1000.1 252.4 L1000.6 257.7 L1001.1 263.0 L1001.6 268.1 L1002.1 273.0 L1002.6 277.7 L1003.1 282.2 L1003.6 286.4 M1015.5 285.7 L1016.0 280.9 L1016.5 275.7 L1017.0 270.3 L1017.5 264.5 L1018.0 258.4 L1018.5 252.0 L1019.0 245.4 L1019.5 238.6 L1020.0 231.7 L1020.5 224.5 L1021.0 217.3 L1021.5 209.9 L1022.0 202.5 L1022.5 195.1 L1023.0 187.6 L1023.5 180.2 L1024.0 172.9 L1024.5 165.6 L1025.0 158.5 M1043.5 156.5 L1044.0 164.4 L1044.5 172.5 L1045.0 180.9 L1045.5 189.5 L1046.0 198.2 L1046.5 207.0 L1047.0 215.8 L1047.5 224.7 L1048.0 233.6 L1048.5 242.4 L1049.0 251.1 L1049.5 259.7 L1050.0 268.2 L1050.5 276.4 L1051.0 284.3 M1067.9 282.5 L1068.4 274.2 L1068.9 265.6 L1069.4 256.8 L1069.9 247.7 L1070.4 238.4 L1070.9 229.1 L1071.4 219.6 L1071.9 210.1 L1072.4 200.7 L1072.9 191.2 L1073.4 181.9 L1073.9 172.6 L1074.4 163.6 L1074.9 154.9 M1093.9 152.4 L1094.4 160.8 L1094.9 169.4 L1095.4 178.3 L1095.9 187.3 L1096.4 196.3 L1096.9 205.4 L1097.3 214.5 L1097.8 223.5 L1098.3 232.5 L1098.8 241.3 L1099.3 249.9 L1099.8 258.4 L1100.3 266.6 L1100.8 274.5 L1101.3 282.1 M1117.3 287.3 L1117.8 280.6 L1118.3 273.5 L1118.8 266.3 L1119.3 258.8 L1119.8 251.2 L1120.3 243.5 L1120.8 235.8 L1121.3 228.0 L1121.8 220.2 L1122.3 212.4 L1122.8 204.7 L1123.3 197.0 L1123.8 189.5 L1124.3 182.2 L1124.8 175.0 L1125.3 168.1 L1125.8 161.5 L1126.3 155.1 M1142.7 152.5 L1143.2 157.9 L1143.7 163.5 L1144.2 169.2 L1144.7 175.0 L1145.2 180.9 L1145.7 186.9 L1146.2 192.9 L1146.7 198.9 L1147.2 204.8 L1147.7 210.7 L1148.2 216.6 L1148.7 222.3 L1149.2 227.9 L1149.7 233.4 L1150.2 238.7 L1150.7 243.8 L1151.2 248.7 L1151.7 253.4 L1152.2 257.9 L1152.7 262.1 L1153.2 266.1 L1153.7 269.7 L1154.2 273.1 L1154.7 276.2 L1155.2 279.0 L1155.7 281.4 L1156.2 283.6 L1156.7 285.4 L1157.2 286.9 L1157.7 288.1 L1158.2 289.0 M1160.7 288.8 L1161.2 287.9 L1161.7 286.7 L1162.2 285.2 L1162.7 283.5 L1163.2 281.5 L1163.7 279.3 L1164.2 276.8 L1164.7 274.1 L1165.2 271.1 L1165.7 268.0 L1166.2 264.7 L1166.7 261.3 L1167.2 257.7 L1167.7 254.0 L1168.2 250.1 L1168.7 246.2 L1169.2 242.2 L1169.7 238.1 L1170.2 234.1 L1170.7 229.9 L1171.2 225.8 L1171.7 221.7 L1172.2 217.6 L1172.7 213.6 L1173.2 209.6 L1173.7 205.7 L1174.2 201.9 L1174.7 198.2 L1175.2 194.6 L1175.7 191.1 L1176.2 187.8 L1176.7 184.6 L1177.2 181.6 L1177.7 178.8 L1178.2 176.1 L1178.7 173.6 L1179.2 171.4 L1179.7 169.3 L1180.2 167.4 L1180.7 165.7 L1181.2 164.3 L1181.7 163.0 L1182.2 162.0 L1182.7 161.1 L1183.2 160.5 L1183.7 160.1 L1184.2 159.9 L1184.6 159.8 L1185.1 160.0 L1185.6 160.4 L1186.1 161.0 L1186.6 161.7 L1187.1 162.6 L1187.6 163.7 L1188.1 165.0 L1188.6 166.4 L1189.1 167.9 L1189.6 169.6 L1190.1 171.4 L1190.6 173.3 L1191.1 175.3 L1191.6 177.5 L1192.1 179.7 L1192.6 182.0 L1193.1 184.3 L1193.6 186.8 L1194.1 189.2 L1194.6 191.7 L1195.1 194.2 L1195.6 196.7 L1196.1 199.2 L1196.6 201.7 L1197.1 204.2 L1197.6 206.7 L1198.1 209.1 L1198.6 211.5 L1199.1 213.8 L1199.6 216.0 L1200.1 218.2 L1200.6 220.3 L1201.1 222.3 L1201.6 224.2 L1202.1 226.0 L1202.6 227.8 L1203.1 229.4 L1203.6 230.9 L1204.1 232.2 L1204.6 233.5 L1205.1 234.6 L1205.6 235.7 L1206.1 236.6 L1206.6 237.3 L1207.1 238.0 L1207.6 238.5 L1208.1 238.9 L1208.6 239.2 L1209.1 239.3 L1209.6 239.4 L1210.1 239.3 L1210.6 239.1 L1211.1 238.8 L1211.6 238.4 L1212.1 237.9 L1212.6 237.3 L1213.1 236.6 L1213.6 235.8 L1214.1 235.0 L1214.6 234.0 L1215.1 233.0 L1215.6 232.0 L1216.1 230.9 L1216.6 229.7 L1217.1 228.5 L1217.6 227.2 L1218.1 225.9 L1218.6 224.6 L1219.1 223.3 L1219.6 221.9 L1220.1 220.5 L1220.6 219.2 L1221.1 217.8 L1221.6 216.5 L1222.1 215.1 L1222.6 213.8 L1223.1 212.5 L1223.6 211.2 L1224.1 210.0 L1224.6 208.8 L1225.1 207.6 L1225.6 206.5 L1226.1 205.4 L1226.6 204.4 L1227.1 203.4 L1227.6 202.5 L1228.1 201.6 L1228.5 200.8 L1229.0 200.1 L1229.5 199.4 L1230.0 198.8 L1230.5 198.3 L1231.0 197.8 L1231.5 197.4 L1232.0 197.0 L1232.5 196.8 L1233.0 196.5 L1233.5 196.4 L1234.0 196.3 L1234.5 196.2 L1235.0 196.3 L1235.5 196.3 L1236.0 196.5 L1236.5 196.7 L1237.0 196.9 L1237.5 197.2 L1238.0 197.5 L1238.5 197.9 L1239.0 198.3 L1239.5 198.7 L1240.0 199.2 L1240.5 199.7 L1241.0 200.3 L1241.5 200.8 L1242.0 201.4 L1242.5 202.0 L1243.0 202.7 L1243.5 203.3 L1244.0 203.9 L1244.5 204.6 L1245.0 205.2 L1245.5 205.9 L1246.0 206.5 L1246.5 207.2 L1247.0 207.8 L1247.5 208.5 L1248.0 209.1 L1248.5 209.7 L1249.0 210.3 L1249.5 210.8 L1250.0 211.4" fill="none" stroke="#6e2550" stroke-width="1.7" stroke-linejoin="round"/>
<path d="M900.8 215.9 L901.3 216.5 L901.8 217.0 L902.3 217.6 L902.8 218.1 L903.3 218.7 L903.8 219.2 L904.3 219.7 L904.8 220.1 L905.3 220.6 L905.8 221.0 L906.3 221.4 L906.8 221.7 L907.3 222.0 L907.8 222.3 L908.3 222.5 L908.8 222.7 L909.3 222.9 L909.8 222.9 L910.3 223.0 L910.8 223.0 L911.3 222.9 L911.8 222.8 L912.3 222.6 L912.8 222.4 L913.3 222.1 L913.8 221.8 L914.3 221.4 L914.8 220.9 L915.3 220.4 L915.8 219.8 L916.3 219.2 L916.8 218.5 L917.3 217.7 L917.8 216.9 L918.3 216.1 L918.8 215.2 L919.3 214.2 L919.8 213.2 L920.3 212.2 L920.8 211.2 L921.3 210.1 L921.8 208.9 L922.3 207.8 L922.7 206.6 L923.2 205.4 L923.7 204.2 L924.2 203.0 L924.7 201.8 L925.2 200.5 L925.7 199.3 L926.2 198.2 L926.7 197.0 L927.2 195.8 L927.7 194.7 L928.2 193.6 L928.7 192.6 L929.2 191.6 L929.7 190.6 L930.2 189.8 L930.7 188.9 L931.2 188.2 L931.7 187.5 L932.2 186.9 L932.7 186.4 L933.2 185.9 L933.7 185.6 L934.2 185.4 L934.7 185.2 L935.2 185.2 L935.7 185.2 L936.2 185.4 L936.7 185.7 L937.2 186.0 L937.7 186.5 L938.2 187.2 L938.7 187.9 L939.2 188.7 L939.7 189.7 L940.2 190.7 L940.7 191.9 L941.2 193.2 L941.7 194.6 L942.2 196.0 L942.7 197.6 L943.2 199.3 L943.7 201.1 L944.2 202.9 L944.7 204.8 L945.2 206.8 L945.7 208.9 L946.2 211.0 L946.7 213.1 L947.2 215.3 L947.7 217.6 L948.2 219.8 L948.7 222.1 L949.2 224.4 L949.7 226.6 L950.2 228.9 L950.7 231.1 L951.2 233.3 L951.7 235.5 L952.2 237.6 L952.7 239.6 L953.2 241.6 L953.7 243.5 L954.2 245.3 L954.7 247.0 L955.2 248.5 L955.7 250.0 L956.2 251.3 L956.7 252.5 L957.2 253.5 L957.7 254.4 L958.2 255.1 L958.7 255.7 L959.2 256.1 L959.7 256.3 L960.2 256.3 L960.7 256.1 L961.2 255.8 L961.7 255.2 L962.2 254.5 L962.7 253.6 L963.2 252.4 L963.7 251.1 L964.2 249.6 L964.7 247.9 L965.2 246.0 L965.7 243.9 L966.2 241.6 L966.6 239.2 L967.1 236.6 L967.6 233.9 L968.1 231.0 L968.6 227.9 L969.1 224.7 L969.6 221.4 L970.1 218.0 L970.6 214.5 L971.1 211.0 L971.6 207.3 L972.1 203.6 L972.6 199.9 L973.1 196.1 L973.6 192.3 L974.1 188.5 L974.6 184.8 L975.1 181.0 L975.6 177.4 L976.1 173.8 L976.6 170.2 L977.1 166.8 L977.6 163.5 L978.1 160.3 L978.6 157.3 L979.1 154.4 L979.6 151.8 L980.1 149.3 L980.6 147.0 L981.1 144.9 L981.6 143.0 L982.1 141.4 L982.6 140.1 L983.1 139.0 L983.6 138.2 L984.1 137.6 L984.6 137.4 L985.1 137.4 L985.6 137.8 L986.1 138.4 L986.6 139.3 L987.1 140.6 L987.6 142.1 L988.1 143.9 L988.6 146.1 L989.1 148.5 L989.6 151.2 L990.1 154.2 L990.6 157.5 L991.1 161.0 L991.6 164.8 L992.1 168.8 L992.6 173.0 L993.1 177.5 L993.6 182.2 L994.1 187.0 L994.6 192.0 L995.1 197.2 L995.6 202.5 L996.1 207.9 L996.6 213.4 L997.1 218.9 L997.6 224.5 L998.1 230.1 L998.6 235.8 L999.1 241.4 L999.6 246.9 L1000.1 252.4 L1000.6 257.8 L1001.1 263.0 L1001.6 268.2 L1002.1 273.1 L1002.6 277.9 L1003.1 282.5 L1003.6 286.8 L1004.1 290.9 L1004.6 294.8 L1005.1 298.3 L1005.6 301.5 L1006.1 304.5 L1006.6 307.0 L1007.1 309.3 L1007.6 311.1 L1008.1 312.6 L1008.6 313.7 L1009.1 314.4 L1009.6 314.7 L1010.0 314.5 L1010.5 314.0 L1011.0 313.0 L1011.5 311.7 L1012.0 309.9 L1012.5 307.7 L1013.0 305.0 L1013.5 302.0 L1014.0 298.6 L1014.5 294.8 L1015.0 290.6 L1015.5 286.0 L1016.0 281.1 L1016.5 275.9 L1017.0 270.4 L1017.5 264.5 L1018.0 258.4 L1018.5 252.0 L1019.0 245.4 L1019.5 238.6 L1020.0 231.7 L1020.5 224.5 L1021.0 217.3 L1021.5 209.9 L1022.0 202.5 L1022.5 195.1 L1023.0 187.6 L1023.5 180.1 L1024.0 172.7 L1024.5 165.4 L1025.0 158.2 L1025.5 151.2 L1026.0 144.3 L1026.5 137.6 L1027.0 131.2 L1027.5 125.0 L1028.0 119.1 L1028.5 113.5 L1029.0 108.2 L1029.5 103.3 L1030.0 98.8 L1030.5 94.7 L1031.0 91.0 L1031.5 87.8 L1032.0 85.0 L1032.5 82.7 L1033.0 80.9 L1033.5 79.5 L1034.0 78.7 L1034.5 78.4 L1035.0 78.6 L1035.5 79.4 L1036.0 80.6 L1036.5 82.4 L1037.0 84.7 L1037.5 87.5 L1038.0 90.8 L1038.5 94.7 L1039.0 98.9 L1039.5 103.7 L1040.0 108.9 L1040.5 114.5 L1041.0 120.6 L1041.5 127.0 L1042.0 133.8 L1042.5 141.0 L1043.0 148.4 L1043.5 156.2 L1044.0 164.2 L1044.5 172.4 L1045.0 180.8 L1045.5 189.4 L1046.0 198.1 L1046.5 207.0 L1047.0 215.8 L1047.5 224.7 L1048.0 233.6 L1048.5 242.4 L1049.0 251.2 L1049.5 259.8 L1050.0 268.3 L1050.5 276.5 L1051.0 284.6 L1051.5 292.4 L1052.0 299.9 L1052.5 307.1 L1053.0 314.0 L1053.5 320.4 L1053.9 326.5 L1054.4 332.1 L1054.9 337.3 L1055.4 342.0 L1055.9 346.2 L1056.4 349.9 L1056.9 353.0 L1057.4 355.6 L1057.9 357.6 L1058.4 359.1 L1058.9 360.0 L1059.4 360.3 L1059.9 360.0 L1060.4 359.2 L1060.9 357.7 L1061.4 355.7 L1061.9 353.1 L1062.4 349.9 L1062.9 346.2 L1063.4 342.0 L1063.9 337.2 L1064.4 331.9 L1064.9 326.2 L1065.4 319.9 L1065.9 313.3 L1066.4 306.2 L1066.9 298.8 L1067.4 290.9 L1067.9 282.8 L1068.4 274.4 L1068.9 265.7 L1069.4 256.8 L1069.9 247.7 L1070.4 238.4 L1070.9 229.1 L1071.4 219.6 L1071.9 210.1 L1072.4 200.6 L1072.9 191.2 L1073.4 181.8 L1073.9 172.5 L1074.4 163.4 L1074.9 154.5 L1075.4 145.7 L1075.9 137.3 L1076.4 129.1 L1076.9 121.2 L1077.4 113.7 L1077.9 106.6 L1078.4 99.9 L1078.9 93.6 L1079.4 87.8 L1079.9 82.4 L1080.4 77.6 L1080.9 73.3 L1081.4 69.5 L1081.9 66.3 L1082.4 63.6 L1082.9 61.5 L1083.4 60.0 L1083.9 59.1 L1084.4 58.8 L1084.9 59.1 L1085.4 60.0 L1085.9 61.4 L1086.4 63.4 L1086.9 66.0 L1087.4 69.2 L1087.9 72.9 L1088.4 77.1 L1088.9 81.8 L1089.4 87.1 L1089.9 92.8 L1090.4 98.9 L1090.9 105.4 L1091.4 112.4 L1091.9 119.7 L1092.4 127.3 L1092.9 135.2 L1093.4 143.4 L1093.9 151.9 L1094.4 160.5 L1094.9 169.3 L1095.4 178.2 L1095.9 187.2 L1096.4 196.3 L1096.9 205.4 L1097.3 214.5 L1097.8 223.5 L1098.3 232.5 L1098.8 241.3 L1099.3 249.9 L1099.8 258.4 L1100.3 266.6 L1100.8 274.6 L1101.3 282.3 L1101.8 289.7 L1102.3 296.8 L1102.8 303.4 L1103.3 309.7 L1103.8 315.6 L1104.3 321.0 L1104.8 326.0 L1105.3 330.5 L1105.8 334.5 L1106.3 338.0 L1106.8 340.9 L1107.3 343.4 L1107.8 345.3 L1108.3 346.7 L1108.8 347.6 L1109.3 347.9 L1109.8 347.7 L1110.3 346.9 L1110.8 345.7 L1111.3 343.9 L1111.8 341.6 L1112.3 338.8 L1112.8 335.5 L1113.3 331.8 L1113.8 327.6 L1114.3 323.0 L1114.8 318.0 L1115.3 312.6 L1115.8 306.8 L1116.3 300.8 L1116.8 294.4 L1117.3 287.7 L1117.8 280.8 L1118.3 273.7 L1118.8 266.3 L1119.3 258.9 L1119.8 251.3 L1120.3 243.5 L1120.8 235.8 L1121.3 228.0 L1121.8 220.2 L1122.3 212.4 L1122.8 204.7 L1123.3 197.0 L1123.8 189.5 L1124.3 182.1 L1124.8 175.0 L1125.3 168.0 L1125.8 161.2 L1126.3 154.7 L1126.8 148.5 L1127.3 142.5 L1127.8 136.9 L1128.3 131.6 L1128.8 126.7 L1129.3 122.2 L1129.8 118.0 L1130.3 114.3 L1130.8 110.9 L1131.3 108.0 L1131.8 105.5 L1132.3 103.5 L1132.8 101.8 L1133.3 100.7 L1133.8 99.9 L1134.3 99.6 L1134.8 99.7 L1135.3 100.3 L1135.8 101.3 L1136.3 102.7 L1136.8 104.5 L1137.3 106.6 L1137.8 109.2 L1138.3 112.2 L1138.8 115.4 L1139.3 119.1 L1139.8 123.0 L1140.3 127.2 L1140.8 131.7 L1141.2 136.5 L1141.7 141.4 L1142.2 146.6 L1142.7 152.0 L1143.2 157.6 L1143.7 163.2 L1144.2 169.0 L1144.7 174.9 L1145.2 180.9 L1145.7 186.9 L1146.2 192.9 L1146.7 198.9 L1147.2 204.8 L1147.7 210.7 L1148.2 216.6 L1148.7 222.3 L1149.2 227.9 L1149.7 233.4 L1150.2 238.7 L1150.7 243.8 L1151.2 248.7 L1151.7 253.5 L1152.2 257.9 L1152.7 262.2 L1153.2 266.1 L1153.7 269.8 L1154.2 273.3 L1154.7 276.4 L1155.2 279.2 L1155.7 281.7 L1156.2 283.9 L1156.7 285.8 L1157.2 287.3 L1157.7 288.6 L1158.2 289.5 L1158.7 290.1 L1159.2 290.4 L1159.7 290.3 L1160.2 290.0 L1160.7 289.3 L1161.2 288.4 L1161.7 287.1 L1162.2 285.6 L1162.7 283.8 L1163.2 281.8 L1163.7 279.5 L1164.2 276.9 L1164.7 274.2 L1165.2 271.2 L1165.7 268.1 L1166.2 264.8 L1166.7 261.3 L1167.2 257.7 L1167.7 254.0 L1168.2 250.1 L1168.7 246.2 L1169.2 242.2 L1169.7 238.2 L1170.2 234.1 L1170.7 229.9 L1171.2 225.8 L1171.7 221.7 L1172.2 217.6 L1172.7 213.6 L1173.2 209.6 L1173.7 205.7 L1174.2 201.9 L1174.7 198.2 L1175.2 194.6 L1175.7 191.1 L1176.2 187.7 L1176.7 184.6 L1177.2 181.5 L1177.7 178.7 L1178.2 176.0 L1178.7 173.5 L1179.2 171.2 L1179.7 169.1 L1180.2 167.2 L1180.7 165.5 L1181.2 164.1 L1181.7 162.8 L1182.2 161.7 L1182.7 160.9 L1183.2 160.2 L1183.7 159.8 L1184.2 159.6 L1184.6 159.6 L1185.1 159.7 L1185.6 160.1 L1186.1 160.7 L1186.6 161.5 L1187.1 162.4 L1187.6 163.5 L1188.1 164.8 L1188.6 166.2 L1189.1 167.7 L1189.6 169.4 L1190.1 171.3 L1190.6 173.2 L1191.1 175.3 L1191.6 177.4 L1192.1 179.6 L1192.6 181.9 L1193.1 184.3 L1193.6 186.7 L1194.1 189.2 L1194.6 191.7 L1195.1 194.2 L1195.6 196.7 L1196.1 199.2 L1196.6 201.7 L1197.1 204.2 L1197.6 206.7 L1198.1 209.1 L1198.6 211.5 L1199.1 213.8 L1199.6 216.0 L1200.1 218.2 L1200.6 220.3 L1201.1 222.3 L1201.6 224.2 L1202.1 226.0 L1202.6 227.8 L1203.1 229.4 L1203.6 230.9 L1204.1 232.2 L1204.6 233.5 L1205.1 234.6 L1205.6 235.7 L1206.1 236.6 L1206.6 237.3 L1207.1 238.0 L1207.6 238.5 L1208.1 238.9 L1208.6 239.2 L1209.1 239.3 L1209.6 239.4 L1210.1 239.3 L1210.6 239.1 L1211.1 238.8 L1211.6 238.4 L1212.1 237.9 L1212.6 237.3 L1213.1 236.6 L1213.6 235.8 L1214.1 235.0 L1214.6 234.1 L1215.1 233.1 L1215.6 232.0 L1216.1 230.9 L1216.6 229.7 L1217.1 228.5 L1217.6 227.2 L1218.1 225.9 L1218.6 224.6 L1219.1 223.3 L1219.6 221.9 L1220.1 220.5 L1220.6 219.2 L1221.1 217.8 L1221.6 216.5 L1222.1 215.1 L1222.6 213.8 L1223.1 212.5 L1223.6 211.2 L1224.1 210.0 L1224.6 208.8 L1225.1 207.6 L1225.6 206.5 L1226.1 205.4 L1226.6 204.4 L1227.1 203.4 L1227.6 202.5 L1228.1 201.6 L1228.5 200.8 L1229.0 200.1 L1229.5 199.4 L1230.0 198.8 L1230.5 198.3 L1231.0 197.8 L1231.5 197.4 L1232.0 197.0 L1232.5 196.7 L1233.0 196.5 L1233.5 196.4 L1234.0 196.3 L1234.5 196.2 L1235.0 196.2 L1235.5 196.3 L1236.0 196.5 L1236.5 196.6 L1237.0 196.9 L1237.5 197.2 L1238.0 197.5 L1238.5 197.9 L1239.0 198.3 L1239.5 198.7 L1240.0 199.2 L1240.5 199.7 L1241.0 200.3 L1241.5 200.8 L1242.0 201.4 L1242.5 202.0 L1243.0 202.6 L1243.5 203.3 L1244.0 203.9 L1244.5 204.6 L1245.0 205.2 L1245.5 205.9 L1246.0 206.5 L1246.5 207.2 L1247.0 207.8 L1247.5 208.4 L1248.0 209.1 L1248.5 209.7 L1249.0 210.3 L1249.5 210.8 L1250.0 211.4" fill="none" stroke="#a3222e" stroke-width="2.2" stroke-dasharray="4.1 2.1"/>
</g></g>
<rect x="900.8" y="50.7" width="349.20" height="319.60" fill="none" stroke="#111" stroke-width="2"/>
<line x1="895.80" y1="84.49" x2="900.80" y2="84.49" stroke="#111" stroke-width="2"/>
<g transform="translate(891.89,91.59) scale(0.955,1)"><text x="-36.14" y="0" class="t">0.6</text></g>
<line x1="895.80" y1="126.51" x2="900.80" y2="126.51" stroke="#111" stroke-width="2"/>
<g transform="translate(891.92,133.61) scale(0.955,1)"><text x="-36.14" y="0" class="t">0.4</text></g>
<line x1="895.80" y1="168.53" x2="900.80" y2="168.53" stroke="#111" stroke-width="2"/>
<g transform="translate(892.54,175.63) scale(0.955,1)"><text x="-36.14" y="0" class="t">0.2</text></g>
<line x1="895.80" y1="210.55" x2="900.80" y2="210.55" stroke="#111" stroke-width="2"/>
<g transform="translate(889.87,217.65) scale(0.955,1)"><text x="-14.46" y="0" class="t">0</text></g>
<line x1="895.80" y1="252.57" x2="900.80" y2="252.57" stroke="#111" stroke-width="2"/>
<g transform="translate(893.04,259.67) scale(0.955,1)"><text x="-44.80" y="0" class="t">-0.2</text></g>
<line x1="895.80" y1="294.59" x2="900.80" y2="294.59" stroke="#111" stroke-width="2"/>
<g transform="translate(891.92,301.69) scale(0.955,1)"><text x="-44.80" y="0" class="t">-0.4</text></g>
<line x1="895.80" y1="336.61" x2="900.80" y2="336.61" stroke="#111" stroke-width="2"/>
<g transform="translate(892.39,343.71) scale(0.955,1)"><text x="-44.80" y="0" class="t">-0.6</text></g>
<line x1="925.74" y1="370.30" x2="925.74" y2="375.80" stroke="#111" stroke-width="2"/>
<g transform="translate(927.14,403.20) scale(1.0,1)"><text x="-11.56" y="0" class="t">-6</text></g>
<line x1="975.63" y1="370.30" x2="975.63" y2="375.80" stroke="#111" stroke-width="2"/>
<g transform="translate(977.03,403.20) scale(1.0,1)"><text x="-11.56" y="0" class="t">-4</text></g>
<line x1="1025.51" y1="370.30" x2="1025.51" y2="375.80" stroke="#111" stroke-width="2"/>
<g transform="translate(1026.91,403.20) scale(1.0,1)"><text x="-11.56" y="0" class="t">-2</text></g>
<line x1="1075.40" y1="370.30" x2="1075.40" y2="375.80" stroke="#111" stroke-width="2"/>
<g transform="translate(1075.70,403.20) scale(1.0,1)"><text x="-7.23" y="0" class="t">0</text></g>
<line x1="1125.29" y1="370.30" x2="1125.29" y2="375.80" stroke="#111" stroke-width="2"/>
<g transform="translate(1124.69,403.20) scale(1.0,1)"><text x="-7.23" y="0" class="t">2</text></g>
<line x1="1175.17" y1="370.30" x2="1175.17" y2="375.80" stroke="#111" stroke-width="2"/>
<g transform="translate(1174.57,403.20) scale(1.0,1)"><text x="-7.23" y="0" class="t">4</text></g>
<line x1="1225.06" y1="370.30" x2="1225.06" y2="375.80" stroke="#111" stroke-width="2"/>
<g transform="translate(1224.46,403.20) scale(1.0,1)"><text x="-7.23" y="0" class="t">6</text></g>
<g transform="translate(1083.60,437.20) scale(1.0,1)"><text x="-51.27" y="0" class="t">Time (fs)</text></g>
<g transform="translate(928.00,91.90) scale(1.0,1)"><text x="0.00" y="0" class="t">2</text></g>
<g transform="translate(949.51,91.9) scale(0.88,1)"><text x="0" y="0" class="t">V</text></g>
<path d="M967.30 92.6 L973.20 72.7" stroke="#111" stroke-width="2.1" fill="none"/>
<g transform="translate(976.05,91.9) scale(0.89,1)"><text x="0" y="0" class="t">A</text></g>
<circle cx="983.77" cy="69.3" r="2.2" fill="none" stroke="#111" stroke-width="1.3"/>
<line x1="1154.7" y1="80.2" x2="1187.9" y2="80.2" stroke="#a3222e" stroke-width="2" stroke-dasharray="4.4 1.9"/>
<line x1="1154.7" y1="107.6" x2="1187.9" y2="107.6" stroke="#2f3a80" stroke-width="1.8"/>
<text class="lg" y="86.8"><tspan x="1191.3" font-size="27.6">ν</tspan><tspan x="1202.6" dy="3.5" font-size="13.5">free</tspan><tspan x="1225.7" dy="-4.9" letter-spacing="0.4">(t)</tspan></text>
<text class="lg" y="113.3"><tspan x="1191.3" font-size="27.6">ν</tspan><tspan x="1204.1" dy="3.3" font-size="13.5">c</tspan><tspan x="1212.4" dy="-4.7" letter-spacing="0.4">(t)</tspan></text>
</svg>
</body></html>
